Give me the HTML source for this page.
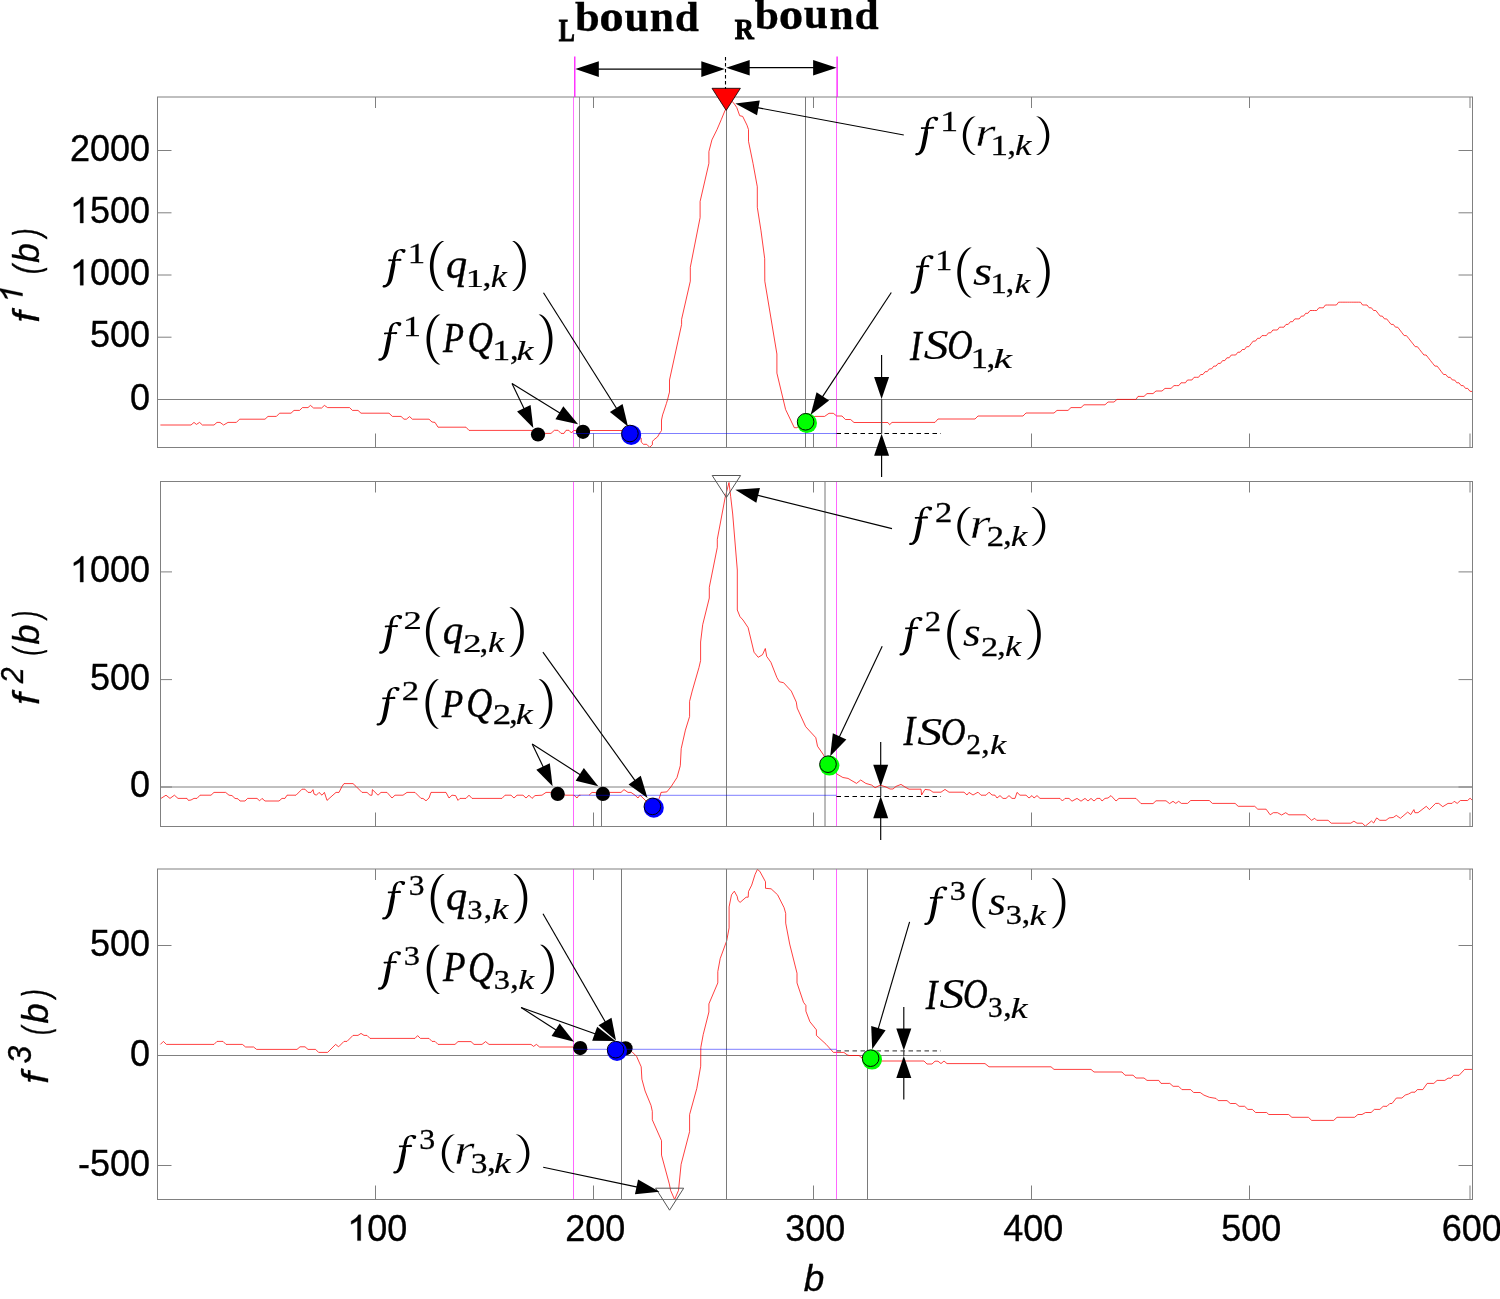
<!DOCTYPE html>
<html><head><meta charset="utf-8"><style>
html,body{margin:0;padding:0;background:#fff;}
body{width:1500px;height:1299px;overflow:hidden;font-family:"Liberation Sans",sans-serif;}
svg{display:block;will-change:transform;}
</style></head><body>
<svg width="1500" height="1299" viewBox="0 0 1500 1299">
<g style="opacity:0.999">
<rect x="0" y="0" width="1500" height="1299" fill="#fff"/>
<clipPath id="c0"><rect x="157.5" y="96.5" width="1315.0" height="351.5"/></clipPath>
<g id="p0" clip-path="url(#c0)"><line x1="157.50" y1="399.50" x2="1472.50" y2="399.50" stroke="#808080" stroke-width="1.00" /><polyline points="160.4,425.0 191.0,425.0 194.0,422.4 196.4,424.4 199.6,422.4 202.4,425.0 214.0,425.0 217.0,422.4 220.0,422.4 223.6,425.0 228.0,422.4 236.4,422.4 239.6,419.2 265.0,419.2 268.0,416.4 276.4,416.4 279.6,413.2 291.0,413.2 294.0,410.4 299.6,410.4 302.4,407.6 308.0,407.6 310.4,405.4 313.6,408.0 321.6,408.0 324.4,405.4 327.6,407.6 349.6,407.6 352.4,410.4 358.0,410.4 361.0,413.2 389.0,413.2 392.4,416.4 401.0,416.4 404.0,419.2 406.4,419.2 409.6,416.6 412.4,419.2 429.0,419.2 432.0,422.0 435.0,422.4 438.0,427.2 466.0,427.2 469.0,430.4 531.0,430.4 538.0,432.0 545.0,433.4 551.0,433.4 554.4,430.3 558.0,430.3 561.0,433.4 564.0,433.4 566.0,430.3 569.0,430.3 571.5,433.0 573.5,430.5 622.0,430.5 631.0,433.0 638.0,436.0 641.2,438.2 641.2,442.0 643.5,444.3 646.7,444.3 649.7,447.3 652.4,444.7 652.4,441.6 653.7,439.9 657.5,436.9 659.6,433.3 661.5,430.6 661.5,420.0 662.6,414.9 663.9,411.1 666.4,403.5 667.7,399.2 668.7,395.0 669.5,392.1 669.5,380.0 681.6,324.5 681.6,319.3 690.3,281.2 690.3,267.3 693.7,250.0 700.1,217.6 700.1,201.5 708.9,163.3 708.9,151.6 711.9,139.9 717.0,129.6 721.4,119.3 725.0,110.5 728.5,103.0 731.0,100.5 733.9,103.2 736.8,107.6 739.7,115.7 742.7,116.4 747.0,125.2 748.5,129.6 748.5,141.3 753.0,163.3 757.3,186.8 757.3,207.3 761.0,230.8 764.7,258.7 764.8,281.2 776.9,354.0 776.9,373.1 785.6,409.5 794.3,427.7 796.9,427.7 805.5,422.5 815.0,416.4 824.6,416.4 829.0,413.3 833.3,413.3 836.7,416.0 842.0,416.0 845.4,419.5 850.6,419.5 854.0,422.5 887.9,422.5 889.6,424.7 892.0,422.4 935.0,422.4 938.0,419.0 975.0,419.0 978.0,416.0 1023.0,416.0 1026.0,413.0 1054.0,413.0 1057.0,410.4 1068.0,410.4 1071.0,407.6 1081.0,407.6 1084.0,404.8 1105.0,404.8 1108.0,402.0 1114.0,402.0 1117.0,399.4 1136.0,399.4 1138.0,396.4 1144.0,396.4 1147.0,393.6 1153.0,393.6 1156.0,391.0 1162.0,391.0 1165.0,388.4 1171.0,388.4 1174.0,385.6 1176.6,385.6 1178.8,385.6 1181.0,382.8 1183.2,382.8 1185.4,382.8 1187.5,380.0 1189.7,380.0 1191.9,380.0 1194.1,377.3 1196.3,377.3 1198.5,377.3 1200.7,374.5 1202.9,374.5 1205.1,371.7 1207.2,371.7 1209.4,368.9 1211.6,368.9 1213.8,366.1 1216.0,366.1 1218.2,363.4 1220.4,363.4 1222.6,360.6 1224.8,360.6 1226.9,357.8 1229.1,357.8 1231.3,355.0 1233.5,355.0 1235.7,355.0 1237.9,352.2 1240.1,352.2 1242.3,349.5 1244.5,349.5 1246.6,346.7 1248.8,346.7 1251.0,343.9 1253.2,341.1 1255.4,341.1 1257.6,338.3 1259.8,338.3 1262.0,335.6 1264.2,335.6 1266.3,335.6 1268.5,332.8 1270.7,332.8 1272.9,330.0 1275.1,330.0 1277.3,330.0 1279.5,327.2 1281.7,327.2 1283.9,327.2 1286.0,324.4 1288.2,324.4 1290.4,321.7 1292.6,321.7 1294.8,318.9 1297.0,318.9 1299.2,318.9 1301.4,316.1 1303.6,316.1 1305.7,313.3 1307.9,313.3 1310.1,310.5 1312.3,310.5 1314.5,310.5 1316.7,310.5 1318.9,307.8 1321.1,307.8 1323.3,307.8 1325.4,305.0 1327.6,305.0 1329.8,305.0 1332.0,305.0 1334.2,305.0 1336.4,305.0 1338.6,302.2 1340.8,302.2 1342.9,302.2 1345.1,302.2 1347.3,302.2 1349.5,302.2 1351.7,302.2 1353.9,302.2 1356.1,302.2 1358.3,302.2 1360.5,302.2 1362.6,305.0 1364.8,305.0 1367.0,305.0 1369.2,307.8 1371.4,307.8 1373.6,310.5 1375.8,310.5 1378.0,313.3 1380.2,316.1 1382.3,316.1 1384.5,318.9 1386.7,318.9 1388.9,321.7 1391.1,324.4 1393.3,324.4 1395.5,327.2 1397.7,327.2 1399.9,330.0 1402.0,332.8 1404.2,335.6 1406.4,335.6 1408.6,338.3 1410.8,341.1 1413.0,343.9 1415.2,346.7 1417.4,346.7 1419.6,349.5 1421.7,352.2 1423.9,355.0 1426.1,355.0 1428.3,357.8 1430.5,360.6 1432.7,363.4 1434.9,366.1 1437.1,366.1 1439.3,368.9 1441.4,371.7 1443.6,374.5 1445.8,374.5 1448.0,377.3 1450.2,377.3 1452.4,380.0 1454.6,380.0 1456.8,382.8 1459.0,382.8 1461.1,385.6 1463.3,385.6 1465.5,388.4 1467.7,388.4 1469.9,391.2 1472.5,391.6" fill="none" stroke="#ff0000" stroke-width="0.75" stroke-linejoin="round" stroke-opacity="1.00"/></g>
<clipPath id="c1"><rect x="160.5" y="481.0" width="1312.0" height="346.0"/></clipPath>
<g id="p1" clip-path="url(#c1)"><line x1="160.50" y1="787.00" x2="1472.50" y2="787.00" stroke="#808080" stroke-width="1.00" /><polyline points="161.0,798.4 166.0,795.2 170.0,798.4 174.4,795.2 178.0,798.4 187.0,798.4 188.4,800.4 191.0,800.0 194.0,798.4 197.0,798.4 200.0,795.2 211.0,795.2 214.0,792.4 225.6,792.4 229.0,795.2 232.0,795.6 235.0,798.4 238.0,798.8 240.0,801.0 245.0,801.0 247.6,798.4 257.0,798.4 259.6,800.8 262.0,798.4 265.0,801.0 279.0,801.0 282.0,798.4 285.0,798.4 287.0,795.2 296.0,795.2 302.0,789.2 305.0,789.2 308.0,792.4 311.0,792.4 313.0,789.6 314.0,794.0 316.4,795.2 319.0,792.4 322.0,795.2 324.4,792.4 327.0,800.4 336.0,792.4 339.0,792.4 342.0,786.4 344.0,783.6 353.0,783.6 356.0,786.4 362.0,792.4 367.0,792.4 370.0,795.2 372.0,795.2 372.4,789.6 378.0,795.2 381.0,792.4 387.0,792.4 392.0,798.0 395.0,795.2 403.0,795.2 407.0,792.4 415.0,792.4 421.0,798.4 423.0,798.4 426.0,800.8 429.0,798.0 431.0,792.4 446.0,792.4 449.0,798.0 452.0,795.2 455.6,795.6 458.0,800.4 460.0,798.4 466.0,798.4 469.0,795.2 472.0,798.4 502.0,798.4 505.0,795.2 511.0,795.2 514.0,798.0 517.0,795.2 523.0,795.2 526.0,798.0 529.0,795.2 532.0,798.4 535.0,795.6 542.0,795.2 546.0,792.4 551.0,792.4 558.0,794.0 566.0,795.2 574.0,795.2 577.0,798.0 579.0,795.2 589.0,795.2 592.0,792.4 603.0,793.0 610.0,792.4 621.0,792.4 624.0,789.6 628.0,792.4 631.0,792.4 635.0,795.2 638.0,798.0 640.0,795.2 643.0,798.0 648.0,803.0 653.0,807.0 657.0,804.0 660.0,796.0 661.0,792.4 666.8,791.9 671.0,786.8 677.0,777.5 680.3,765.7 681.2,748.7 685.4,730.1 689.6,716.5 689.6,701.3 692.2,691.1 699.0,667.4 700.6,660.6 700.6,642.0 702.7,624.7 709.3,598.0 709.3,587.3 717.3,547.3 717.3,539.3 725.3,496.7 729.0,482.5 730.7,496.7 732.7,514.0 737.3,570.0 737.3,610.0 740.0,616.7 743.0,620.0 748.1,627.6 754.0,652.2 758.2,657.3 762.5,654.7 765.3,648.5 766.7,656.4 770.9,662.3 776.9,677.6 779.4,681.8 783.6,682.7 791.3,691.1 796.3,702.1 797.2,708.1 805.7,726.7 815.8,737.7 817.5,746.2 823.4,754.7 828.5,764.8 837.0,774.1 842.9,777.5 848.0,778.4 856.5,783.4 860.7,780.0 865.8,783.4 871.7,785.1 875.1,787.7 880.2,785.1 886.0,787.0 890.0,789.0 893.0,789.0 896.0,786.4 901.0,784.4 905.0,787.0 909.0,789.2 921.0,789.2 921.6,795.0 925.0,789.4 930.0,790.0 933.0,792.2 941.0,792.2 945.0,789.4 949.0,792.2 964.0,792.2 967.0,795.0 969.0,792.4 973.0,795.0 978.0,792.2 981.0,795.2 986.0,795.2 989.0,792.2 992.0,795.0 995.0,795.2 997.0,798.0 1000.0,795.6 1003.0,798.4 1006.0,798.4 1009.0,795.6 1012.0,798.4 1015.0,798.4 1017.0,792.4 1020.0,795.2 1026.0,795.2 1029.0,798.0 1032.0,795.6 1034.0,798.0 1037.0,795.6 1040.0,798.4 1060.0,798.4 1062.4,801.0 1065.0,798.4 1069.0,798.4 1072.0,801.2 1077.0,798.4 1081.0,801.2 1085.0,798.4 1088.0,801.0 1091.0,798.4 1094.0,801.0 1097.0,798.4 1100.0,798.4 1102.0,801.0 1105.0,798.4 1108.0,798.0 1111.0,795.6 1116.0,801.0 1119.0,798.4 1136.0,798.4 1141.0,803.6 1153.0,803.6 1156.0,800.8 1166.0,800.8 1169.6,803.6 1173.0,801.3 1175.8,803.4 1178.7,801.3 1181.4,803.4 1187.6,803.4 1190.7,800.5 1209.3,800.5 1212.4,803.4 1235.1,803.4 1238.2,806.3 1254.7,806.3 1257.8,809.2 1266.1,809.2 1270.2,814.8 1273.3,812.7 1277.5,812.7 1281.6,815.0 1285.7,812.7 1288.8,814.8 1305.4,814.8 1311.6,820.3 1314.7,818.3 1316.7,820.3 1328.1,820.3 1331.2,823.2 1350.8,823.2 1353.9,821.2 1357.0,823.2 1362.2,823.2 1365.3,826.1 1371.5,821.0 1373.6,823.0 1376.7,817.9 1379.8,820.3 1386.0,820.3 1389.1,817.9 1393.2,817.5 1396.3,815.4 1400.4,818.3 1407.7,812.1 1410.7,814.6 1413.9,809.6 1414.9,812.7 1418.0,812.7 1426.3,806.3 1429.4,809.6 1435.6,803.4 1438.7,803.4 1442.8,806.7 1448.0,803.4 1452.1,803.4 1454.2,801.3 1457.2,803.4 1460.4,800.5 1467.6,800.5 1470.1,798.2 1472.5,800.5" fill="none" stroke="#ff0000" stroke-width="0.75" stroke-linejoin="round" stroke-opacity="1.00"/></g>
<clipPath id="c2"><rect x="157.5" y="868.5" width="1315.0" height="331.5"/></clipPath>
<g id="p2" clip-path="url(#c2)"><line x1="157.50" y1="1055.50" x2="1472.50" y2="1055.50" stroke="#808080" stroke-width="1.00" /><polyline points="160.4,1044.4 163.4,1041.4 166.4,1044.4 214.0,1044.4 217.0,1041.4 223.0,1041.4 226.0,1044.4 242.4,1044.4 245.6,1047.0 253.6,1047.0 256.6,1049.4 297.0,1049.4 300.0,1046.8 305.0,1046.8 308.0,1049.4 315.6,1049.4 318.6,1052.4 327.6,1052.4 335.6,1044.4 338.6,1046.8 344.0,1041.4 347.0,1041.4 353.0,1035.4 358.0,1035.4 361.0,1033.4 364.0,1035.4 367.0,1035.4 370.0,1038.4 415.0,1038.4 417.6,1035.6 420.4,1038.4 429.0,1038.4 432.0,1041.4 435.0,1041.4 438.0,1044.4 455.0,1044.4 458.0,1041.6 471.0,1041.6 474.0,1044.4 482.0,1044.4 485.6,1041.6 489.0,1044.4 531.0,1044.4 533.6,1046.4 536.4,1044.4 539.6,1047.0 573.0,1047.0 575.5,1049.5 627.0,1049.5 632.0,1051.8 636.6,1056.4 641.2,1066.8 641.9,1079.2 645.1,1091.0 651.0,1105.4 652.3,1111.3 652.3,1119.8 661.5,1140.7 661.5,1155.1 669.3,1183.9 670.6,1190.4 674.6,1199.5 678.5,1190.4 681.1,1164.3 689.6,1131.6 689.6,1114.6 696.8,1088.4 700.7,1066.2 700.8,1047.6 703.2,1034.6 708.9,1012.0 708.9,1003.9 717.8,982.9 717.8,971.6 720.2,958.6 726.7,940.8 729.1,927.9 729.1,906.9 731.5,894.8 734.3,891.2 737.2,896.4 738.0,900.4 740.1,902.4 746.1,897.2 748.2,897.2 748.5,891.5 751.7,885.1 755.0,874.6 757.4,869.4 759.8,871.3 765.5,881.8 765.5,888.3 771.1,888.8 777.6,894.8 784.1,907.7 785.7,913.4 785.7,923.1 789.7,944.1 797.0,973.2 797.0,982.9 803.5,1002.3 805.9,1005.5 805.9,1011.2 809.9,1021.7 816.4,1029.8 816.4,1035.4 826.1,1044.3 833.4,1052.4 843.9,1052.4 847.1,1054.8 849.0,1055.5 859.0,1055.5 862.0,1058.0 871.4,1059.5 880.0,1061.0 924.0,1061.0 927.0,1064.0 932.0,1064.0 935.0,1061.2 938.0,1061.2 941.0,1063.6 944.0,1061.0 947.0,1063.6 985.0,1063.6 989.0,1066.8 1051.0,1066.8 1054.0,1069.4 1091.0,1069.4 1094.0,1072.0 1122.0,1072.0 1125.0,1075.2 1133.0,1075.2 1136.0,1078.0 1144.0,1078.0 1147.0,1080.4 1158.8,1080.4 1161.0,1083.4 1169.8,1083.4 1173.1,1086.3 1178.6,1086.3 1181.9,1089.6 1190.7,1089.6 1193.6,1092.5 1200.2,1092.5 1203.9,1095.1 1209.4,1097.3 1216.0,1098.4 1218.2,1100.6 1227.0,1100.6 1230.3,1103.5 1235.8,1103.5 1239.1,1106.3 1244.6,1106.3 1247.9,1109.4 1252.3,1109.4 1255.6,1112.5 1266.6,1112.5 1268.8,1114.5 1288.6,1114.5 1291.9,1117.3 1308.4,1117.3 1311.7,1120.4 1333.7,1120.4 1337.0,1117.3 1354.6,1117.3 1357.9,1114.5 1362.0,1114.5 1365.6,1112.5 1371.1,1112.5 1374.4,1109.4 1379.9,1109.4 1383.2,1106.3 1387.0,1106.3 1389.8,1103.5 1392.0,1103.5 1396.4,1098.0 1401.9,1098.0 1405.2,1095.1 1408.5,1094.0 1411.8,1092.2 1415.0,1092.2 1417.3,1089.6 1422.8,1089.6 1427.2,1083.4 1433.8,1083.4 1437.1,1080.4 1444.8,1080.4 1448.1,1078.2 1451.0,1078.2 1453.6,1075.3 1459.1,1075.3 1464.6,1069.4 1472.5,1069.4" fill="none" stroke="#ff0000" stroke-width="0.75" stroke-linejoin="round" stroke-opacity="1.00"/></g>
<line x1="573.50" y1="97.00" x2="573.50" y2="447.50" stroke="#ff00ff" stroke-width="1.00" stroke-opacity="0.55"/>
<line x1="579.50" y1="97.00" x2="579.50" y2="447.50" stroke="#999" stroke-width="1.00" stroke-opacity="1.00"/>
<line x1="726.50" y1="97.00" x2="726.50" y2="447.50" stroke="#7a7a7a" stroke-width="1.00" stroke-opacity="1.00"/>
<line x1="805.50" y1="97.00" x2="805.50" y2="447.50" stroke="#7a7a7a" stroke-width="1.00" stroke-opacity="1.00"/>
<line x1="836.50" y1="97.00" x2="836.50" y2="447.50" stroke="#ff00ff" stroke-width="1.00" stroke-opacity="0.60"/>
<line x1="573.50" y1="481.50" x2="573.50" y2="826.50" stroke="#ff00ff" stroke-width="1.00" stroke-opacity="0.60"/>
<line x1="601.50" y1="481.50" x2="601.50" y2="826.50" stroke="#7a7a7a" stroke-width="1.00" stroke-opacity="1.00"/>
<line x1="726.50" y1="481.50" x2="726.50" y2="826.50" stroke="#7a7a7a" stroke-width="1.00" stroke-opacity="1.00"/>
<line x1="825.00" y1="481.50" x2="825.00" y2="826.50" stroke="#777" stroke-width="1.00" stroke-opacity="1.00"/>
<line x1="836.50" y1="481.50" x2="836.50" y2="826.50" stroke="#ff00ff" stroke-width="1.00" stroke-opacity="0.60"/>
<line x1="573.50" y1="869.00" x2="573.50" y2="1199.50" stroke="#ff00ff" stroke-width="1.00" stroke-opacity="0.60"/>
<line x1="621.50" y1="869.00" x2="621.50" y2="1199.50" stroke="#7a7a7a" stroke-width="1.00" stroke-opacity="1.00"/>
<line x1="726.50" y1="869.00" x2="726.50" y2="1199.50" stroke="#7a7a7a" stroke-width="1.00" stroke-opacity="1.00"/>
<line x1="836.50" y1="869.00" x2="836.50" y2="1199.50" stroke="#ff00ff" stroke-width="1.00" stroke-opacity="0.60"/>
<line x1="867.50" y1="869.00" x2="867.50" y2="1199.50" stroke="#7a7a7a" stroke-width="1.00" stroke-opacity="1.00"/>
<line x1="836.50" y1="433.50" x2="941.00" y2="433.50" stroke="#000" stroke-width="1.20" stroke-dasharray="4.5,3.5"/>
<line x1="836.50" y1="796.50" x2="941.00" y2="796.50" stroke="#000" stroke-width="1.20" stroke-dasharray="4.5,3.5"/>
<line x1="836.50" y1="1050.80" x2="941.00" y2="1050.80" stroke="#555" stroke-width="1.20" stroke-dasharray="4.5,3.5"/>
<rect x="157.5" y="97.0" width="1315.0" height="350.5" fill="none" stroke="#808080" stroke-width="1"/>
<line x1="375.50" y1="447.50" x2="375.50" y2="433.50" stroke="#808080" stroke-width="1.00" />
<line x1="375.50" y1="97.00" x2="375.50" y2="108.00" stroke="#808080" stroke-width="1.00" />
<line x1="593.50" y1="447.50" x2="593.50" y2="433.50" stroke="#808080" stroke-width="1.00" />
<line x1="593.50" y1="97.00" x2="593.50" y2="108.00" stroke="#808080" stroke-width="1.00" />
<line x1="813.50" y1="447.50" x2="813.50" y2="433.50" stroke="#808080" stroke-width="1.00" />
<line x1="813.50" y1="97.00" x2="813.50" y2="108.00" stroke="#808080" stroke-width="1.00" />
<line x1="1031.50" y1="447.50" x2="1031.50" y2="433.50" stroke="#808080" stroke-width="1.00" />
<line x1="1031.50" y1="97.00" x2="1031.50" y2="108.00" stroke="#808080" stroke-width="1.00" />
<line x1="1249.50" y1="447.50" x2="1249.50" y2="433.50" stroke="#808080" stroke-width="1.00" />
<line x1="1249.50" y1="97.00" x2="1249.50" y2="108.00" stroke="#808080" stroke-width="1.00" />
<line x1="1470.00" y1="447.50" x2="1470.00" y2="433.50" stroke="#808080" stroke-width="1.00" />
<line x1="1470.00" y1="97.00" x2="1470.00" y2="108.00" stroke="#808080" stroke-width="1.00" />
<line x1="157.50" y1="150.50" x2="171.50" y2="150.50" stroke="#808080" stroke-width="1.00" />
<line x1="1472.50" y1="150.50" x2="1458.50" y2="150.50" stroke="#808080" stroke-width="1.00" />
<text x="69.914" y="160.700" font-family="'Liberation Sans'" font-size="36.00" fill="#000" stroke="#000" stroke-width="0.35">2</text><text x="89.936" y="160.700" font-family="'Liberation Sans'" font-size="36.00" fill="#000" stroke="#000" stroke-width="0.35">0</text><text x="109.957" y="160.700" font-family="'Liberation Sans'" font-size="36.00" fill="#000" stroke="#000" stroke-width="0.35">0</text><text x="129.979" y="160.700" font-family="'Liberation Sans'" font-size="36.00" fill="#000" stroke="#000" stroke-width="0.35">0</text>
<line x1="157.50" y1="212.80" x2="171.50" y2="212.80" stroke="#808080" stroke-width="1.00" />
<line x1="1472.50" y1="212.80" x2="1458.50" y2="212.80" stroke="#808080" stroke-width="1.00" />
<path transform="matrix(36.0000 0 0 36.0000 69.914 223.000)" d="M0.37256,-0.00000L0.28467,-0.00000L0.28467,-0.56006Q0.25293,-0.52979 0.20142,-0.49951Q0.14990,-0.46924 0.10889,-0.45410L0.10889,-0.53906Q0.18262,-0.57373 0.23706,-0.62207Q0.29150,-0.67041 0.31592,-0.71582L0.37256,-0.71582Z" fill="#000" stroke="#000" stroke-width="0.0097"/><text x="89.936" y="223.000" font-family="'Liberation Sans'" font-size="36.00" fill="#000" stroke="#000" stroke-width="0.35">5</text><text x="109.957" y="223.000" font-family="'Liberation Sans'" font-size="36.00" fill="#000" stroke="#000" stroke-width="0.35">0</text><text x="129.979" y="223.000" font-family="'Liberation Sans'" font-size="36.00" fill="#000" stroke="#000" stroke-width="0.35">0</text>
<line x1="157.50" y1="275.00" x2="171.50" y2="275.00" stroke="#808080" stroke-width="1.00" />
<line x1="1472.50" y1="275.00" x2="1458.50" y2="275.00" stroke="#808080" stroke-width="1.00" />
<path transform="matrix(36.0000 0 0 36.0000 69.914 285.200)" d="M0.37256,-0.00000L0.28467,-0.00000L0.28467,-0.56006Q0.25293,-0.52979 0.20142,-0.49951Q0.14990,-0.46924 0.10889,-0.45410L0.10889,-0.53906Q0.18262,-0.57373 0.23706,-0.62207Q0.29150,-0.67041 0.31592,-0.71582L0.37256,-0.71582Z" fill="#000" stroke="#000" stroke-width="0.0097"/><text x="89.936" y="285.200" font-family="'Liberation Sans'" font-size="36.00" fill="#000" stroke="#000" stroke-width="0.35">0</text><text x="109.957" y="285.200" font-family="'Liberation Sans'" font-size="36.00" fill="#000" stroke="#000" stroke-width="0.35">0</text><text x="129.979" y="285.200" font-family="'Liberation Sans'" font-size="36.00" fill="#000" stroke="#000" stroke-width="0.35">0</text>
<line x1="157.50" y1="337.20" x2="171.50" y2="337.20" stroke="#808080" stroke-width="1.00" />
<line x1="1472.50" y1="337.20" x2="1458.50" y2="337.20" stroke="#808080" stroke-width="1.00" />
<text x="89.936" y="347.400" font-family="'Liberation Sans'" font-size="36.00" fill="#000" stroke="#000" stroke-width="0.35">5</text><text x="109.957" y="347.400" font-family="'Liberation Sans'" font-size="36.00" fill="#000" stroke="#000" stroke-width="0.35">0</text><text x="129.979" y="347.400" font-family="'Liberation Sans'" font-size="36.00" fill="#000" stroke="#000" stroke-width="0.35">0</text>
<line x1="157.50" y1="399.50" x2="171.50" y2="399.50" stroke="#808080" stroke-width="1.00" />
<line x1="1472.50" y1="399.50" x2="1458.50" y2="399.50" stroke="#808080" stroke-width="1.00" />
<text x="129.979" y="409.700" font-family="'Liberation Sans'" font-size="36.00" fill="#000" stroke="#000" stroke-width="0.35">0</text>
<rect x="160.5" y="481.5" width="1312.0" height="345.0" fill="none" stroke="#808080" stroke-width="1"/>
<line x1="375.50" y1="826.50" x2="375.50" y2="812.50" stroke="#808080" stroke-width="1.00" />
<line x1="375.50" y1="481.50" x2="375.50" y2="492.50" stroke="#808080" stroke-width="1.00" />
<line x1="593.50" y1="826.50" x2="593.50" y2="812.50" stroke="#808080" stroke-width="1.00" />
<line x1="593.50" y1="481.50" x2="593.50" y2="492.50" stroke="#808080" stroke-width="1.00" />
<line x1="813.50" y1="826.50" x2="813.50" y2="812.50" stroke="#808080" stroke-width="1.00" />
<line x1="813.50" y1="481.50" x2="813.50" y2="492.50" stroke="#808080" stroke-width="1.00" />
<line x1="1031.50" y1="826.50" x2="1031.50" y2="812.50" stroke="#808080" stroke-width="1.00" />
<line x1="1031.50" y1="481.50" x2="1031.50" y2="492.50" stroke="#808080" stroke-width="1.00" />
<line x1="1249.50" y1="826.50" x2="1249.50" y2="812.50" stroke="#808080" stroke-width="1.00" />
<line x1="1249.50" y1="481.50" x2="1249.50" y2="492.50" stroke="#808080" stroke-width="1.00" />
<line x1="1470.00" y1="826.50" x2="1470.00" y2="812.50" stroke="#808080" stroke-width="1.00" />
<line x1="1470.00" y1="481.50" x2="1470.00" y2="492.50" stroke="#808080" stroke-width="1.00" />
<line x1="160.50" y1="571.90" x2="172.00" y2="571.90" stroke="#808080" stroke-width="1.00" />
<line x1="1472.50" y1="571.90" x2="1458.50" y2="571.90" stroke="#808080" stroke-width="1.00" />
<path transform="matrix(36.0000 0 0 36.0000 69.914 582.100)" d="M0.37256,-0.00000L0.28467,-0.00000L0.28467,-0.56006Q0.25293,-0.52979 0.20142,-0.49951Q0.14990,-0.46924 0.10889,-0.45410L0.10889,-0.53906Q0.18262,-0.57373 0.23706,-0.62207Q0.29150,-0.67041 0.31592,-0.71582L0.37256,-0.71582Z" fill="#000" stroke="#000" stroke-width="0.0097"/><text x="89.936" y="582.100" font-family="'Liberation Sans'" font-size="36.00" fill="#000" stroke="#000" stroke-width="0.35">0</text><text x="109.957" y="582.100" font-family="'Liberation Sans'" font-size="36.00" fill="#000" stroke="#000" stroke-width="0.35">0</text><text x="129.979" y="582.100" font-family="'Liberation Sans'" font-size="36.00" fill="#000" stroke="#000" stroke-width="0.35">0</text>
<line x1="160.50" y1="679.60" x2="172.00" y2="679.60" stroke="#808080" stroke-width="1.00" />
<line x1="1472.50" y1="679.60" x2="1458.50" y2="679.60" stroke="#808080" stroke-width="1.00" />
<text x="89.936" y="689.800" font-family="'Liberation Sans'" font-size="36.00" fill="#000" stroke="#000" stroke-width="0.35">5</text><text x="109.957" y="689.800" font-family="'Liberation Sans'" font-size="36.00" fill="#000" stroke="#000" stroke-width="0.35">0</text><text x="129.979" y="689.800" font-family="'Liberation Sans'" font-size="36.00" fill="#000" stroke="#000" stroke-width="0.35">0</text>
<line x1="160.50" y1="787.00" x2="172.00" y2="787.00" stroke="#808080" stroke-width="1.00" />
<line x1="1472.50" y1="787.00" x2="1458.50" y2="787.00" stroke="#808080" stroke-width="1.00" />
<text x="129.979" y="797.200" font-family="'Liberation Sans'" font-size="36.00" fill="#000" stroke="#000" stroke-width="0.35">0</text>
<rect x="157.5" y="869.0" width="1315.0" height="330.5" fill="none" stroke="#808080" stroke-width="1"/>
<line x1="375.50" y1="1199.50" x2="375.50" y2="1185.50" stroke="#808080" stroke-width="1.00" />
<line x1="375.50" y1="869.00" x2="375.50" y2="880.00" stroke="#808080" stroke-width="1.00" />
<line x1="593.50" y1="1199.50" x2="593.50" y2="1185.50" stroke="#808080" stroke-width="1.00" />
<line x1="593.50" y1="869.00" x2="593.50" y2="880.00" stroke="#808080" stroke-width="1.00" />
<line x1="813.50" y1="1199.50" x2="813.50" y2="1185.50" stroke="#808080" stroke-width="1.00" />
<line x1="813.50" y1="869.00" x2="813.50" y2="880.00" stroke="#808080" stroke-width="1.00" />
<line x1="1031.50" y1="1199.50" x2="1031.50" y2="1185.50" stroke="#808080" stroke-width="1.00" />
<line x1="1031.50" y1="869.00" x2="1031.50" y2="880.00" stroke="#808080" stroke-width="1.00" />
<line x1="1249.50" y1="1199.50" x2="1249.50" y2="1185.50" stroke="#808080" stroke-width="1.00" />
<line x1="1249.50" y1="869.00" x2="1249.50" y2="880.00" stroke="#808080" stroke-width="1.00" />
<line x1="1470.00" y1="1199.50" x2="1470.00" y2="1185.50" stroke="#808080" stroke-width="1.00" />
<line x1="1470.00" y1="869.00" x2="1470.00" y2="880.00" stroke="#808080" stroke-width="1.00" />
<line x1="157.50" y1="945.50" x2="171.50" y2="945.50" stroke="#808080" stroke-width="1.00" />
<line x1="1472.50" y1="945.50" x2="1458.50" y2="945.50" stroke="#808080" stroke-width="1.00" />
<text x="89.936" y="955.700" font-family="'Liberation Sans'" font-size="36.00" fill="#000" stroke="#000" stroke-width="0.35">5</text><text x="109.957" y="955.700" font-family="'Liberation Sans'" font-size="36.00" fill="#000" stroke="#000" stroke-width="0.35">0</text><text x="129.979" y="955.700" font-family="'Liberation Sans'" font-size="36.00" fill="#000" stroke="#000" stroke-width="0.35">0</text>
<line x1="157.50" y1="1055.50" x2="171.50" y2="1055.50" stroke="#808080" stroke-width="1.00" />
<line x1="1472.50" y1="1055.50" x2="1458.50" y2="1055.50" stroke="#808080" stroke-width="1.00" />
<text x="129.979" y="1065.700" font-family="'Liberation Sans'" font-size="36.00" fill="#000" stroke="#000" stroke-width="0.35">0</text>
<line x1="157.50" y1="1165.50" x2="171.50" y2="1165.50" stroke="#808080" stroke-width="1.00" />
<line x1="1472.50" y1="1165.50" x2="1458.50" y2="1165.50" stroke="#808080" stroke-width="1.00" />
<text x="77.947" y="1175.700" font-family="'Liberation Sans'" font-size="36.00" fill="#000" stroke="#000" stroke-width="0.35">-</text><text x="89.936" y="1175.700" font-family="'Liberation Sans'" font-size="36.00" fill="#000" stroke="#000" stroke-width="0.35">5</text><text x="109.957" y="1175.700" font-family="'Liberation Sans'" font-size="36.00" fill="#000" stroke="#000" stroke-width="0.35">0</text><text x="129.979" y="1175.700" font-family="'Liberation Sans'" font-size="36.00" fill="#000" stroke="#000" stroke-width="0.35">0</text>
<path transform="matrix(36.0000 0 0 36.0000 347.268 1240.600)" d="M0.37256,-0.00000L0.28467,-0.00000L0.28467,-0.56006Q0.25293,-0.52979 0.20142,-0.49951Q0.14990,-0.46924 0.10889,-0.45410L0.10889,-0.53906Q0.18262,-0.57373 0.23706,-0.62207Q0.29150,-0.67041 0.31592,-0.71582L0.37256,-0.71582Z" fill="#000" stroke="#000" stroke-width="0.0097"/><text x="367.289" y="1240.600" font-family="'Liberation Sans'" font-size="36.00" fill="#000" stroke="#000" stroke-width="0.35">0</text><text x="387.311" y="1240.600" font-family="'Liberation Sans'" font-size="36.00" fill="#000" stroke="#000" stroke-width="0.35">0</text>
<text x="565.268" y="1240.600" font-family="'Liberation Sans'" font-size="36.00" fill="#000" stroke="#000" stroke-width="0.35">2</text><text x="585.289" y="1240.600" font-family="'Liberation Sans'" font-size="36.00" fill="#000" stroke="#000" stroke-width="0.35">0</text><text x="605.311" y="1240.600" font-family="'Liberation Sans'" font-size="36.00" fill="#000" stroke="#000" stroke-width="0.35">0</text>
<text x="785.268" y="1240.600" font-family="'Liberation Sans'" font-size="36.00" fill="#000" stroke="#000" stroke-width="0.35">3</text><text x="805.289" y="1240.600" font-family="'Liberation Sans'" font-size="36.00" fill="#000" stroke="#000" stroke-width="0.35">0</text><text x="825.311" y="1240.600" font-family="'Liberation Sans'" font-size="36.00" fill="#000" stroke="#000" stroke-width="0.35">0</text>
<text x="1003.268" y="1240.600" font-family="'Liberation Sans'" font-size="36.00" fill="#000" stroke="#000" stroke-width="0.35">4</text><text x="1023.289" y="1240.600" font-family="'Liberation Sans'" font-size="36.00" fill="#000" stroke="#000" stroke-width="0.35">0</text><text x="1043.311" y="1240.600" font-family="'Liberation Sans'" font-size="36.00" fill="#000" stroke="#000" stroke-width="0.35">0</text>
<text x="1221.268" y="1240.600" font-family="'Liberation Sans'" font-size="36.00" fill="#000" stroke="#000" stroke-width="0.35">5</text><text x="1241.289" y="1240.600" font-family="'Liberation Sans'" font-size="36.00" fill="#000" stroke="#000" stroke-width="0.35">0</text><text x="1261.311" y="1240.600" font-family="'Liberation Sans'" font-size="36.00" fill="#000" stroke="#000" stroke-width="0.35">0</text>
<text x="1441.768" y="1240.600" font-family="'Liberation Sans'" font-size="36.00" fill="#000" stroke="#000" stroke-width="0.35">6</text><text x="1461.789" y="1240.600" font-family="'Liberation Sans'" font-size="36.00" fill="#000" stroke="#000" stroke-width="0.35">0</text><text x="1481.811" y="1240.600" font-family="'Liberation Sans'" font-size="36.00" fill="#000" stroke="#000" stroke-width="0.35">0</text>
<circle cx="538.0" cy="434.5" r="7.1" fill="#000"/>
<circle cx="583.0" cy="431.8" r="7.1" fill="#000"/>
<circle cx="557.7" cy="793.9" r="7.1" fill="#000"/>
<circle cx="602.9" cy="793.9" r="7.1" fill="#000"/>
<circle cx="580.2" cy="1048.1" r="7.1" fill="#000"/>
<circle cx="625.5" cy="1048.3" r="7.1" fill="#000"/>
<line x1="588.00" y1="1049.50" x2="607.50" y2="1049.50" stroke="#fff" stroke-width="1.30" />
<line x1="580.50" y1="795.30" x2="589.00" y2="795.30" stroke="#fff" stroke-width="1.30" />
<line x1="573.50" y1="433.50" x2="836.50" y2="433.50" stroke="#0000ff" stroke-width="1.00" stroke-opacity="0.5"/>
<line x1="573.50" y1="795.30" x2="836.50" y2="795.30" stroke="#0000ff" stroke-width="1.00" stroke-opacity="0.5"/>
<line x1="573.50" y1="1049.30" x2="836.50" y2="1049.30" stroke="#0000ff" stroke-width="1.00" stroke-opacity="0.5"/>
<circle cx="631.2" cy="434.9" r="10" fill="#0000ff"/><circle cx="629.9" cy="433.5" r="8.3" fill="none" stroke="#000" stroke-width="0.95"/>
<circle cx="653.8" cy="807.8" r="10" fill="#0000ff"/><circle cx="652.4" cy="806.4" r="8.3" fill="none" stroke="#000" stroke-width="0.95"/>
<circle cx="617.0" cy="1051.0" r="10" fill="#0000ff"/><circle cx="615.6" cy="1049.7" r="8.3" fill="none" stroke="#000" stroke-width="0.95"/>
<circle cx="807.0" cy="423.1" r="10" fill="#00ff00"/><circle cx="805.6" cy="421.8" r="8.3" fill="none" stroke="#000" stroke-width="0.95"/>
<circle cx="829.4" cy="765.6" r="10" fill="#00ff00"/><circle cx="828.0" cy="764.2" r="8.3" fill="none" stroke="#000" stroke-width="0.95"/>
<circle cx="872.0" cy="1059.6" r="10" fill="#00ff00"/><circle cx="870.6" cy="1058.2" r="8.3" fill="none" stroke="#000" stroke-width="0.95"/>
<polygon points="712.00,88.30 740.40,88.30 726.20,110.40" fill="#ff0000" stroke="#000" stroke-width="0.80"/>
<polygon points="712.20,475.50 740.60,475.50 726.40,497.50" fill="none" stroke="#555" stroke-width="1.00"/>
<polygon points="655.60,1188.20 683.70,1188.20 669.60,1210.20" fill="none" stroke="#555" stroke-width="1.00"/>
<line x1="903.80" y1="135.00" x2="757.42" y2="107.63" stroke="#000" stroke-width="1.15" /><polygon points="735.30,103.50 759.78,100.45 757.02,115.19" fill="#000" stroke="none" stroke-width="1.00"/>
<line x1="543.50" y1="292.70" x2="616.79" y2="408.74" stroke="#000" stroke-width="1.15" /><polygon points="628.00,426.50 609.91,411.90 622.59,403.89" fill="#000" stroke="none" stroke-width="1.00"/>
<line x1="512.00" y1="383.50" x2="524.23" y2="409.06" stroke="#000" stroke-width="1.15" /><polygon points="533.30,428.00 517.04,411.39 530.57,404.92" fill="#000" stroke="none" stroke-width="1.00"/>
<line x1="512.00" y1="383.50" x2="560.23" y2="413.27" stroke="#000" stroke-width="1.15" /><polygon points="578.10,424.30 555.44,419.13 563.32,406.36" fill="#000" stroke="none" stroke-width="1.00"/>
<line x1="891.30" y1="292.50" x2="822.26" y2="397.17" stroke="#000" stroke-width="1.15" /><polygon points="810.70,414.70 816.55,392.21 829.07,400.46" fill="#000" stroke="none" stroke-width="1.00"/>
<line x1="881.60" y1="355.10" x2="881.60" y2="377.90" stroke="#000" stroke-width="1.15" /><polygon points="881.60,398.90 874.10,376.90 889.10,376.90" fill="#000" stroke="none" stroke-width="1.00"/>
<line x1="881.60" y1="476.90" x2="881.60" y2="454.80" stroke="#000" stroke-width="1.15" /><polygon points="881.60,433.80 889.10,455.80 874.10,455.80" fill="#000" stroke="none" stroke-width="1.00"/>
<line x1="881.60" y1="398.90" x2="881.60" y2="433.80" stroke="#444" stroke-width="1.30" />
<line x1="892.00" y1="528.60" x2="757.14" y2="495.12" stroke="#000" stroke-width="1.15" /><polygon points="735.30,489.70 759.91,488.08 756.30,502.64" fill="#000" stroke="none" stroke-width="1.00"/>
<line x1="542.90" y1="652.20" x2="635.26" y2="780.94" stroke="#000" stroke-width="1.15" /><polygon points="647.50,798.00 628.58,784.50 640.77,775.75" fill="#000" stroke="none" stroke-width="1.00"/>
<line x1="532.20" y1="744.00" x2="543.48" y2="767.38" stroke="#000" stroke-width="1.15" /><polygon points="552.60,786.30 536.29,769.74 549.80,763.23" fill="#000" stroke="none" stroke-width="1.00"/>
<line x1="532.20" y1="744.00" x2="580.61" y2="774.98" stroke="#000" stroke-width="1.15" /><polygon points="598.30,786.30 575.73,780.76 583.81,768.12" fill="#000" stroke="none" stroke-width="1.00"/>
<line x1="882.20" y1="646.30" x2="839.17" y2="737.31" stroke="#000" stroke-width="1.15" /><polygon points="830.20,756.30 832.82,733.21 846.38,739.62" fill="#000" stroke="none" stroke-width="1.00"/>
<line x1="880.70" y1="742.00" x2="880.70" y2="765.80" stroke="#000" stroke-width="1.15" /><polygon points="880.70,786.80 873.20,764.80 888.20,764.80" fill="#000" stroke="none" stroke-width="1.00"/>
<line x1="880.70" y1="840.00" x2="880.70" y2="817.20" stroke="#000" stroke-width="1.15" /><polygon points="880.70,796.20 888.20,818.20 873.20,818.20" fill="#000" stroke="none" stroke-width="1.00"/>
<line x1="880.70" y1="786.80" x2="880.70" y2="796.20" stroke="#444" stroke-width="1.30" />
<line x1="543.20" y1="1167.20" x2="637.49" y2="1187.14" stroke="#000" stroke-width="1.15" /><polygon points="659.50,1191.80 634.96,1194.27 638.06,1179.60" fill="#000" stroke="none" stroke-width="1.00"/>
<line x1="543.00" y1="913.80" x2="605.52" y2="1022.30" stroke="#000" stroke-width="1.15" /><polygon points="616.00,1040.50 598.52,1025.18 611.52,1017.69" fill="#000" stroke="none" stroke-width="1.00"/>
<line x1="521.10" y1="1007.50" x2="556.45" y2="1030.31" stroke="#000" stroke-width="1.15" /><polygon points="574.10,1041.70 551.55,1036.07 559.68,1023.47" fill="#000" stroke="none" stroke-width="1.00"/>
<line x1="521.10" y1="1007.50" x2="595.62" y2="1034.05" stroke="#000" stroke-width="1.15" /><polygon points="615.40,1041.10 592.16,1040.78 597.19,1026.65" fill="#000" stroke="none" stroke-width="1.00"/>
<line x1="909.60" y1="921.90" x2="878.12" y2="1029.05" stroke="#000" stroke-width="1.15" /><polygon points="872.20,1049.20 871.21,1025.98 885.60,1030.21" fill="#000" stroke="none" stroke-width="1.00"/>
<line x1="903.80" y1="1007.00" x2="903.80" y2="1029.40" stroke="#000" stroke-width="1.15" /><polygon points="903.80,1050.40 896.30,1028.40 911.30,1028.40" fill="#000" stroke="none" stroke-width="1.00"/>
<line x1="903.80" y1="1099.60" x2="903.80" y2="1077.00" stroke="#000" stroke-width="1.15" /><polygon points="903.80,1056.00 911.30,1078.00 896.30,1078.00" fill="#000" stroke="none" stroke-width="1.00"/>
<line x1="903.80" y1="1050.40" x2="903.80" y2="1056.00" stroke="#444" stroke-width="1.30" />
<line x1="574.80" y1="56.40" x2="574.80" y2="97.00" stroke="#ff00ff" stroke-width="1.20" />
<line x1="837.10" y1="56.40" x2="837.10" y2="97.00" stroke="#ff00ff" stroke-width="1.20" />
<line x1="725.50" y1="56.90" x2="725.50" y2="89.00" stroke="#000" stroke-width="1.10" stroke-dasharray="3.5,2.5"/>
<line x1="597.80" y1="69.10" x2="702.30" y2="69.10" stroke="#000" stroke-width="1.30" /><polygon points="575.30,69.10 598.80,61.30 598.80,76.90" fill="#000" stroke="none" stroke-width="1.00"/><polygon points="724.80,69.10 701.30,61.30 701.30,76.90" fill="#000" stroke="none" stroke-width="1.00"/>
<line x1="748.70" y1="67.70" x2="814.10" y2="67.70" stroke="#000" stroke-width="1.30" /><polygon points="726.20,67.70 749.70,59.90 749.70,75.50" fill="#000" stroke="none" stroke-width="1.00"/><polygon points="836.60,67.70 813.10,59.90 813.10,75.50" fill="#000" stroke="none" stroke-width="1.00"/>
<text transform="matrix(0.2402 0.0000 0.0000 0.3100 558.6896 41.1000)" font-family='"Liberation Serif"' font-style="normal" font-weight="bold" font-size="100" fill="#000" stroke="#000" stroke-width="3.2716">L</text>
<text transform="matrix(0.4454 0.0000 0.0000 0.4207 575.0346 31.0892)" font-family='"Liberation Serif"' font-style="normal" font-weight="bold" font-size="100" fill="#000" stroke="#000" stroke-width="0.6928">b</text>
<text transform="matrix(0.4908 0.0000 0.0000 0.4449 599.3309 31.0655)" font-family='"Liberation Serif"' font-style="normal" font-weight="bold" font-size="100" fill="#000" stroke="#000" stroke-width="0.6412">o</text>
<text transform="matrix(0.4357 0.0000 0.0000 0.4457 624.5406 30.9560)" font-family='"Liberation Serif"' font-style="normal" font-weight="bold" font-size="100" fill="#000" stroke="#000" stroke-width="0.6808">u</text>
<text transform="matrix(0.4357 0.0000 0.0000 0.4436 649.6300 31.0000)" font-family='"Liberation Serif"' font-style="normal" font-weight="bold" font-size="100" fill="#000" stroke="#000" stroke-width="0.6824">n</text>
<text transform="matrix(0.4342 0.0000 0.0000 0.4207 674.6404 31.0892)" font-family='"Liberation Serif"' font-style="normal" font-weight="bold" font-size="100" fill="#000" stroke="#000" stroke-width="0.7019">d</text>
<text transform="matrix(0.2648 0.0000 0.0000 0.3039 734.6475 38.9000)" font-family='"Liberation Serif"' font-style="normal" font-weight="bold" font-size="100" fill="#000" stroke="#000" stroke-width="3.1653">R</text>
<text transform="matrix(0.4354 0.0000 0.0000 0.4207 754.8472 28.5892)" font-family='"Liberation Serif"' font-style="normal" font-weight="bold" font-size="100" fill="#000" stroke="#000" stroke-width="0.7008">b</text>
<text transform="matrix(0.4908 0.0000 0.0000 0.4366 778.6309 28.5736)" font-family='"Liberation Serif"' font-style="normal" font-weight="bold" font-size="100" fill="#000" stroke="#000" stroke-width="0.6470">o</text>
<text transform="matrix(0.4357 0.0000 0.0000 0.4351 803.8406 28.4689)" font-family='"Liberation Serif"' font-style="normal" font-weight="bold" font-size="100" fill="#000" stroke="#000" stroke-width="0.6891">u</text>
<text transform="matrix(0.4357 0.0000 0.0000 0.4414 829.4300 28.8000)" font-family='"Liberation Serif"' font-style="normal" font-weight="bold" font-size="100" fill="#000" stroke="#000" stroke-width="0.6841">n</text>
<text transform="matrix(0.4342 0.0000 0.0000 0.4207 854.4404 28.5892)" font-family='"Liberation Serif"' font-style="normal" font-weight="bold" font-size="100" fill="#000" stroke="#000" stroke-width="0.7019">d</text>
<path d="M937.26,117.26C937.79,117.46 938.09,117.61 938.20,118.03C938.31,118.44 938.16,119.29 937.94,119.75C937.72,120.22 937.25,120.67 936.89,120.82C936.52,120.98 936.11,120.86 935.76,120.71C935.42,120.56 935.07,120.24 934.82,119.94C934.57,119.64 934.51,119.18 934.26,118.91C934.01,118.64 933.69,118.42 933.32,118.33C932.96,118.25 932.49,118.27 932.08,118.41C931.68,118.55 931.24,118.79 930.88,119.18C930.53,119.56 930.21,120.10 929.95,120.71C929.68,121.32 929.46,122.02 929.27,122.82C929.08,123.62 928.94,124.80 928.82,125.50C928.70,126.20 927.78,126.83 928.56,127.03C929.34,127.24 932.67,126.44 933.51,126.73C934.35,127.02 934.45,128.39 933.58,128.76C932.72,129.13 929.26,128.34 928.33,128.95C927.41,129.56 928.23,130.93 928.03,132.40C927.84,133.87 927.48,136.04 927.17,137.77C926.86,139.49 926.47,141.28 926.16,142.75C925.84,144.22 925.63,145.40 925.29,146.58C924.96,147.77 924.56,148.92 924.13,149.84C923.70,150.77 923.27,151.45 922.70,152.14C922.14,152.83 921.45,153.49 920.75,153.98C920.05,154.47 919.19,154.86 918.50,155.09C917.81,155.33 917.11,155.40 916.63,155.40C916.14,155.40 915.81,155.30 915.58,155.09C915.34,154.89 915.18,154.47 915.20,154.17C915.22,153.87 915.45,153.50 915.69,153.29C915.93,153.09 916.28,153.00 916.63,152.95C916.97,152.89 917.40,153.06 917.75,152.95C918.10,152.83 918.36,152.69 918.73,152.26C919.10,151.82 919.61,151.09 919.97,150.34C920.32,149.59 920.56,148.81 920.87,147.73C921.17,146.66 921.49,145.37 921.80,143.90C922.12,142.43 922.40,140.71 922.74,138.92C923.09,137.13 923.56,134.82 923.87,133.17C924.17,131.52 925.01,129.72 924.58,129.03C924.15,128.34 921.86,129.31 921.32,129.03C920.77,128.75 920.66,127.66 921.32,127.34C921.97,127.02 924.51,127.55 925.26,127.11C926.01,126.68 925.60,125.58 925.82,124.73C926.04,123.89 926.22,122.88 926.57,122.05C926.91,121.22 927.35,120.42 927.88,119.75C928.41,119.08 929.01,118.47 929.76,118.03C930.51,117.58 931.51,117.27 932.38,117.07C933.26,116.86 934.20,116.77 935.01,116.80C935.82,116.83 936.73,117.06 937.26,117.26Z" fill="#000"/>
<text transform="matrix(0.3579 0.0000 0.0000 0.2908 940.2544 131.2000)" font-family='"Liberation Serif"' font-style="normal" font-weight="normal" font-size="100" fill="#000" stroke="#000" stroke-width="0.9249">1</text>
<path d="M973.50,116.40 L971.57,117.36 L970.19,118.33 L969.08,119.29 L968.15,120.26 L967.36,121.22 L966.66,122.19 L966.05,123.15 L965.52,124.12 L965.05,125.08 L964.63,126.05 L964.26,127.01 L963.94,127.98 L963.67,128.94 L963.43,129.91 L963.24,130.88 L963.08,131.84 L962.96,132.80 L962.87,133.77 L962.82,134.73 L962.80,135.70 L962.82,136.66 L962.87,137.63 L962.96,138.59 L963.08,139.56 L963.24,140.52 L963.43,141.49 L963.67,142.45 L963.94,143.42 L964.26,144.38 L964.63,145.35 L965.05,146.31 L965.52,147.28 L966.05,148.24 L966.66,149.21 L967.36,150.17 L968.15,151.14 L969.08,152.10 L970.19,153.07 L971.57,154.03 L973.50,155.00 L975.80,155.00 L974.02,154.03 L972.76,153.07 L971.77,152.10 L970.94,151.14 L970.23,150.17 L969.62,149.21 L969.08,148.24 L968.60,147.28 L968.18,146.31 L967.80,145.35 L967.47,144.38 L967.18,143.42 L966.92,142.45 L966.70,141.49 L966.52,140.52 L966.37,139.56 L966.25,138.59 L966.17,137.63 L966.12,136.66 L966.10,135.70 L966.12,134.73 L966.17,133.77 L966.25,132.80 L966.37,131.84 L966.52,130.88 L966.70,129.91 L966.92,128.94 L967.18,127.98 L967.47,127.01 L967.80,126.05 L968.18,125.08 L968.60,124.12 L969.08,123.15 L969.62,122.19 L970.23,121.22 L970.94,120.26 L971.77,119.29 L972.76,118.33 L974.02,117.36 L975.80,116.40Z" fill="#000"/>
<text transform="matrix(0.5319 0.0000 0.0000 0.4223 974.9443 145.8000)" font-family='"Liberation Serif"' font-style="italic" font-weight="normal" font-size="100" fill="#000" stroke="#fff" stroke-width="1.0479">r</text>
<text transform="matrix(0.3494 0.0000 0.0000 0.2969 990.5293 155.0000)" font-family='"Liberation Serif"' font-style="normal" font-weight="normal" font-size="100" fill="#000" stroke="#000" stroke-width="0.9284">1</text>
<text transform="matrix(0.3357 0.0000 0.0000 0.3076 1007.5213 154.0690)" font-family='"Liberation Serif"' font-style="normal" font-weight="normal" font-size="100" fill="#000" stroke="#000" stroke-width="0.9327">,</text>
<text transform="matrix(0.3700 0.0000 0.0000 0.3012 1014.9340 155.0000)" font-family='"Liberation Serif"' font-style="italic" font-weight="normal" font-size="100" fill="#000" stroke="#000" stroke-width="0.5959">k</text>
<path d="M1038.30,116.40 L1040.28,117.36 L1041.70,118.33 L1042.84,119.29 L1043.80,120.26 L1044.62,121.22 L1045.33,122.19 L1045.95,123.15 L1046.51,124.12 L1046.99,125.08 L1047.42,126.05 L1047.80,127.01 L1048.13,127.98 L1048.41,128.94 L1048.65,129.91 L1048.85,130.88 L1049.02,131.84 L1049.14,132.80 L1049.23,133.77 L1049.28,134.73 L1049.30,135.70 L1049.28,136.66 L1049.23,137.63 L1049.14,138.59 L1049.02,139.56 L1048.85,140.52 L1048.65,141.49 L1048.41,142.45 L1048.13,143.42 L1047.80,144.38 L1047.42,145.35 L1046.99,146.31 L1046.51,147.28 L1045.95,148.24 L1045.33,149.21 L1044.62,150.17 L1043.80,151.14 L1042.84,152.10 L1041.70,153.07 L1040.28,154.03 L1038.30,155.00 L1036.00,155.00 L1037.84,154.03 L1039.13,153.07 L1040.16,152.10 L1041.01,151.14 L1041.74,150.17 L1042.37,149.21 L1042.93,148.24 L1043.42,147.28 L1043.86,146.31 L1044.25,145.35 L1044.59,144.38 L1044.89,143.42 L1045.15,142.45 L1045.38,141.49 L1045.57,140.52 L1045.72,139.56 L1045.84,138.59 L1045.93,137.63 L1045.98,136.66 L1046.00,135.70 L1045.98,134.73 L1045.93,133.77 L1045.84,132.80 L1045.72,131.84 L1045.57,130.88 L1045.38,129.91 L1045.15,128.94 L1044.89,127.98 L1044.59,127.01 L1044.25,126.05 L1043.86,125.08 L1043.42,124.12 L1042.93,123.15 L1042.37,122.19 L1041.74,121.22 L1041.01,120.26 L1040.16,119.29 L1039.13,118.33 L1037.84,117.36 L1036.00,116.40Z" fill="#000"/>
<path d="M932.46,255.66C932.99,255.86 933.29,256.01 933.40,256.43C933.51,256.84 933.36,257.69 933.14,258.15C932.92,258.62 932.45,259.07 932.09,259.22C931.72,259.38 931.31,259.26 930.96,259.11C930.62,258.96 930.27,258.64 930.02,258.34C929.77,258.04 929.71,257.58 929.46,257.31C929.21,257.04 928.89,256.82 928.52,256.73C928.16,256.65 927.69,256.67 927.28,256.81C926.88,256.95 926.44,257.19 926.08,257.58C925.73,257.96 925.41,258.50 925.15,259.11C924.88,259.72 924.66,260.42 924.47,261.22C924.28,262.02 924.14,263.20 924.02,263.90C923.90,264.60 922.98,265.23 923.76,265.43C924.54,265.64 927.87,264.84 928.71,265.13C929.55,265.42 929.65,266.79 928.78,267.16C927.92,267.53 924.46,266.74 923.53,267.35C922.61,267.96 923.43,269.33 923.23,270.80C923.04,272.27 922.68,274.44 922.37,276.17C922.06,277.89 921.67,279.68 921.36,281.15C921.04,282.62 920.83,283.80 920.49,284.98C920.16,286.17 919.76,287.32 919.33,288.24C918.90,289.17 918.47,289.85 917.90,290.54C917.34,291.23 916.65,291.89 915.95,292.38C915.25,292.87 914.39,293.26 913.70,293.49C913.01,293.73 912.31,293.80 911.83,293.80C911.34,293.80 911.01,293.70 910.78,293.49C910.54,293.29 910.38,292.87 910.40,292.57C910.42,292.27 910.65,291.90 910.89,291.69C911.13,291.49 911.48,291.40 911.83,291.35C912.17,291.29 912.60,291.46 912.95,291.35C913.30,291.23 913.56,291.09 913.93,290.66C914.30,290.22 914.81,289.49 915.17,288.74C915.52,287.99 915.76,287.21 916.07,286.13C916.37,285.06 916.69,283.77 917.00,282.30C917.32,280.83 917.60,279.11 917.94,277.32C918.29,275.53 918.76,273.22 919.07,271.57C919.37,269.92 920.21,268.12 919.78,267.43C919.35,266.74 917.06,267.71 916.52,267.43C915.97,267.15 915.86,266.06 916.52,265.74C917.17,265.42 919.71,265.95 920.46,265.51C921.21,265.08 920.80,263.98 921.02,263.13C921.24,262.29 921.42,261.28 921.77,260.45C922.11,259.62 922.55,258.82 923.08,258.15C923.61,257.48 924.21,256.87 924.96,256.43C925.71,255.98 926.71,255.67 927.58,255.47C928.46,255.26 929.40,255.17 930.21,255.20C931.02,255.23 931.93,255.46 932.46,255.66Z" fill="#000"/>
<text transform="matrix(0.3409 0.0000 0.0000 0.2969 935.3042 270.4000)" font-family='"Liberation Serif"' font-style="normal" font-weight="normal" font-size="100" fill="#000" stroke="#000" stroke-width="0.9408">1</text>
<path d="M969.50,247.60 L967.30,248.85 L965.72,250.10 L964.46,251.35 L963.40,252.60 L962.49,253.85 L961.70,255.10 L961.01,256.35 L960.40,257.60 L959.86,258.85 L959.38,260.10 L958.97,261.35 L958.60,262.60 L958.29,263.85 L958.02,265.10 L957.80,266.35 L957.62,267.60 L957.48,268.85 L957.38,270.10 L957.32,271.35 L957.30,272.60 L957.32,273.85 L957.38,275.10 L957.48,276.35 L957.62,277.60 L957.80,278.85 L958.02,280.10 L958.29,281.35 L958.60,282.60 L958.97,283.85 L959.38,285.10 L959.86,286.35 L960.40,287.60 L961.01,288.85 L961.70,290.10 L962.49,291.35 L963.40,292.60 L964.46,293.85 L965.72,295.10 L967.30,296.35 L969.50,297.60 L971.80,297.60 L969.79,296.35 L968.38,295.10 L967.26,293.85 L966.34,292.60 L965.55,291.35 L964.86,290.10 L964.25,288.85 L963.72,287.60 L963.24,286.35 L962.82,285.10 L962.45,283.85 L962.12,282.60 L961.83,281.35 L961.58,280.10 L961.38,278.85 L961.21,277.60 L961.07,276.35 L960.98,275.10 L960.92,273.85 L960.90,272.60 L960.92,271.35 L960.98,270.10 L961.07,268.85 L961.21,267.60 L961.38,266.35 L961.58,265.10 L961.83,263.85 L962.12,262.60 L962.45,261.35 L962.82,260.10 L963.24,258.85 L963.72,257.60 L964.25,256.35 L964.86,255.10 L965.55,253.85 L966.34,252.60 L967.26,251.35 L968.38,250.10 L969.79,248.85 L971.80,247.60Z" fill="#000"/>
<text transform="matrix(0.4933 0.0000 0.0000 0.4221 973.0979 284.5878)" font-family='"Liberation Serif"' font-style="italic" font-weight="normal" font-size="100" fill="#000" stroke="#000" stroke-width="0.2622">s</text>
<text transform="matrix(0.3238 0.0000 0.0000 0.2878 990.5540 293.2000)" font-family='"Liberation Serif"' font-style="normal" font-weight="normal" font-size="100" fill="#000" stroke="#000" stroke-width="0.9810">1</text>
<text transform="matrix(0.3357 0.0000 0.0000 0.3115 1005.7213 292.2091)" font-family='"Liberation Serif"' font-style="normal" font-weight="normal" font-size="100" fill="#000" stroke="#000" stroke-width="0.9270">,</text>
<text transform="matrix(0.3537 0.0000 0.0000 0.2825 1014.4809 293.2000)" font-family='"Liberation Serif"' font-style="italic" font-weight="normal" font-size="100" fill="#000" stroke="#000" stroke-width="0.6287">k</text>
<path d="M1038.10,247.60 L1040.19,248.85 L1041.69,250.10 L1042.89,251.35 L1043.90,252.60 L1044.76,253.85 L1045.51,255.10 L1046.17,256.35 L1046.75,257.60 L1047.27,258.85 L1047.72,260.10 L1048.12,261.35 L1048.46,262.60 L1048.76,263.85 L1049.02,265.10 L1049.23,266.35 L1049.40,267.60 L1049.53,268.85 L1049.63,270.10 L1049.68,271.35 L1049.70,272.60 L1049.68,273.85 L1049.63,275.10 L1049.53,276.35 L1049.40,277.60 L1049.23,278.85 L1049.02,280.10 L1048.76,281.35 L1048.46,282.60 L1048.12,283.85 L1047.72,285.10 L1047.27,286.35 L1046.75,287.60 L1046.17,288.85 L1045.51,290.10 L1044.76,291.35 L1043.90,292.60 L1042.89,293.85 L1041.69,295.10 L1040.19,296.35 L1038.10,297.60 L1035.80,297.60 L1037.70,296.35 L1039.04,295.10 L1040.09,293.85 L1040.96,292.60 L1041.71,291.35 L1042.36,290.10 L1042.93,288.85 L1043.43,287.60 L1043.88,286.35 L1044.28,285.10 L1044.63,283.85 L1044.95,282.60 L1045.22,281.35 L1045.45,280.10 L1045.65,278.85 L1045.81,277.60 L1045.94,276.35 L1046.03,275.10 L1046.08,273.85 L1046.10,272.60 L1046.08,271.35 L1046.03,270.10 L1045.94,268.85 L1045.81,267.60 L1045.65,266.35 L1045.45,265.10 L1045.22,263.85 L1044.95,262.60 L1044.63,261.35 L1044.28,260.10 L1043.88,258.85 L1043.43,257.60 L1042.93,256.35 L1042.36,255.10 L1041.71,253.85 L1040.96,252.60 L1040.09,251.35 L1039.04,250.10 L1037.70,248.85 L1035.80,247.60Z" fill="#000"/>
<text transform="matrix(0.3511 0.0000 0.0000 0.4261 909.9371 359.7000)" font-family='"Liberation Serif"' font-style="italic" font-weight="normal" font-size="100" fill="#000" stroke="#000" stroke-width="1.0294">I</text>
<text transform="matrix(0.4977 0.0000 0.0000 0.4153 923.7168 359.2945)" font-family='"Liberation Serif"' font-style="italic" font-weight="normal" font-size="100" fill="#000" stroke="#000" stroke-width="0.2629">S</text>
<text transform="matrix(0.3516 0.0000 0.0000 0.4153 947.2316 359.2945)" font-family='"Liberation Serif"' font-style="italic" font-weight="normal" font-size="100" fill="#000" stroke="#000" stroke-width="1.0432">O</text>
<text transform="matrix(0.3437 0.0000 0.0000 0.2878 970.6792 368.0000)" font-family='"Liberation Serif"' font-style="normal" font-weight="normal" font-size="100" fill="#000" stroke="#000" stroke-width="0.9501">1</text>
<text transform="matrix(0.3357 0.0000 0.0000 0.3115 986.7213 367.2091)" font-family='"Liberation Serif"' font-style="normal" font-weight="normal" font-size="100" fill="#000" stroke="#000" stroke-width="0.9270">,</text>
<text transform="matrix(0.4143 0.0000 0.0000 0.2738 993.4066 368.0000)" font-family='"Liberation Serif"' font-style="italic" font-weight="normal" font-size="100" fill="#000" stroke="#000" stroke-width="0.5813">k</text>
<path d="M404.56,249.36C405.09,249.56 405.39,249.71 405.50,250.13C405.61,250.54 405.46,251.39 405.24,251.85C405.02,252.32 404.55,252.77 404.19,252.92C403.82,253.08 403.41,252.96 403.06,252.81C402.72,252.66 402.37,252.34 402.12,252.04C401.87,251.74 401.81,251.28 401.56,251.01C401.31,250.74 400.99,250.52 400.62,250.43C400.26,250.35 399.79,250.37 399.38,250.51C398.98,250.65 398.54,250.89 398.18,251.28C397.83,251.66 397.51,252.20 397.25,252.81C396.98,253.42 396.76,254.12 396.57,254.92C396.38,255.72 396.24,256.90 396.12,257.60C396.00,258.30 395.08,258.93 395.86,259.13C396.64,259.34 399.97,258.54 400.81,258.83C401.65,259.12 401.75,260.49 400.88,260.86C400.02,261.23 396.56,260.44 395.63,261.05C394.71,261.66 395.53,263.03 395.33,264.50C395.14,265.97 394.78,268.14 394.47,269.87C394.16,271.59 393.77,273.38 393.46,274.85C393.14,276.32 392.93,277.50 392.59,278.68C392.26,279.87 391.86,281.02 391.43,281.94C391.00,282.87 390.57,283.55 390.00,284.24C389.44,284.93 388.75,285.59 388.05,286.08C387.35,286.57 386.49,286.96 385.80,287.19C385.11,287.43 384.41,287.50 383.93,287.50C383.44,287.50 383.11,287.40 382.88,287.19C382.64,286.99 382.48,286.57 382.50,286.27C382.52,285.97 382.75,285.60 382.99,285.39C383.23,285.19 383.58,285.10 383.93,285.05C384.27,284.99 384.70,285.16 385.05,285.05C385.40,284.93 385.66,284.79 386.03,284.36C386.40,283.92 386.91,283.19 387.27,282.44C387.62,281.69 387.86,280.91 388.17,279.83C388.47,278.76 388.79,277.47 389.10,276.00C389.42,274.53 389.70,272.81 390.04,271.02C390.39,269.23 390.86,266.92 391.17,265.27C391.47,263.62 392.31,261.82 391.88,261.13C391.45,260.44 389.16,261.41 388.62,261.13C388.07,260.85 387.96,259.76 388.62,259.44C389.27,259.12 391.81,259.65 392.56,259.21C393.31,258.78 392.90,257.68 393.12,256.83C393.34,255.99 393.52,254.98 393.87,254.15C394.21,253.32 394.65,252.52 395.18,251.85C395.71,251.18 396.31,250.57 397.06,250.13C397.81,249.68 398.81,249.37 399.68,249.17C400.56,248.96 401.50,248.87 402.31,248.90C403.12,248.93 404.03,249.16 404.56,249.36Z" fill="#000"/>
<text transform="matrix(0.3494 0.0000 0.0000 0.2908 407.6293 263.3000)" font-family='"Liberation Serif"' font-style="normal" font-weight="normal" font-size="100" fill="#000" stroke="#000" stroke-width="0.9372">1</text>
<path d="M442.00,240.90 L439.82,242.15 L438.26,243.41 L437.00,244.66 L435.95,245.91 L435.05,247.16 L434.27,248.41 L433.58,249.67 L432.97,250.92 L432.44,252.17 L431.97,253.42 L431.55,254.68 L431.19,255.93 L430.88,257.18 L430.61,258.44 L430.39,259.69 L430.21,260.94 L430.08,262.19 L429.98,263.44 L429.92,264.70 L429.90,265.95 L429.92,267.20 L429.98,268.45 L430.08,269.71 L430.21,270.96 L430.39,272.21 L430.61,273.46 L430.88,274.72 L431.19,275.97 L431.55,277.22 L431.97,278.47 L432.44,279.73 L432.97,280.98 L433.58,282.23 L434.27,283.49 L435.05,284.74 L435.95,285.99 L437.00,287.24 L438.26,288.50 L439.82,289.75 L442.00,291.00 L444.30,291.00 L442.31,289.75 L440.91,288.50 L439.80,287.24 L438.89,285.99 L438.10,284.74 L437.42,283.49 L436.82,282.23 L436.29,280.98 L435.82,279.73 L435.40,278.47 L435.03,277.22 L434.71,275.97 L434.42,274.72 L434.18,273.46 L433.97,272.21 L433.80,270.96 L433.67,269.71 L433.58,268.45 L433.52,267.20 L433.50,265.95 L433.52,264.70 L433.58,263.44 L433.67,262.19 L433.80,260.94 L433.97,259.69 L434.18,258.44 L434.42,257.18 L434.71,255.93 L435.03,254.68 L435.40,253.42 L435.82,252.17 L436.29,250.92 L436.82,249.67 L437.42,248.41 L438.10,247.16 L438.89,245.91 L439.80,244.66 L440.91,243.41 L442.31,242.15 L444.30,240.90Z" fill="#000"/>
<text transform="matrix(0.4218 0.0000 0.0000 0.4298 446.0996 278.1505)" font-family='"Liberation Serif"' font-style="italic" font-weight="normal" font-size="100" fill="#000" stroke="#000" stroke-width="0.9395">q</text>
<text transform="matrix(0.3636 0.0000 0.0000 0.2590 465.7044 287.3000)" font-family='"Liberation Serif"' font-style="normal" font-weight="normal" font-size="100" fill="#000" stroke="#000" stroke-width="0.9637">1</text>
<text transform="matrix(0.3559 0.0000 0.0000 0.2920 482.4446 285.5086)" font-family='"Liberation Serif"' font-style="normal" font-weight="normal" font-size="100" fill="#000" stroke="#000" stroke-width="0.9261">,</text>
<text transform="matrix(0.3607 0.0000 0.0000 0.3084 490.7608 287.3000)" font-family='"Liberation Serif"' font-style="italic" font-weight="normal" font-size="100" fill="#000" stroke="#000" stroke-width="0.5978">k</text>
<path d="M514.40,240.90 L516.47,242.15 L517.96,243.41 L519.15,244.66 L520.15,245.91 L521.00,247.16 L521.75,248.41 L522.40,249.67 L522.98,250.92 L523.49,252.17 L523.94,253.42 L524.33,254.68 L524.67,255.93 L524.97,257.18 L525.22,258.44 L525.43,259.69 L525.60,260.94 L525.73,262.19 L525.83,263.44 L525.88,264.70 L525.90,265.95 L525.88,267.20 L525.83,268.45 L525.73,269.71 L525.60,270.96 L525.43,272.21 L525.22,273.46 L524.97,274.72 L524.67,275.97 L524.33,277.22 L523.94,278.47 L523.49,279.73 L522.98,280.98 L522.40,282.23 L521.75,283.49 L521.00,284.74 L520.15,285.99 L519.15,287.24 L517.96,288.50 L516.47,289.75 L514.40,291.00 L512.10,291.00 L513.98,289.75 L515.31,288.50 L516.35,287.24 L517.21,285.99 L517.95,284.74 L518.59,283.49 L519.16,282.23 L519.66,280.98 L520.10,279.73 L520.50,278.47 L520.85,277.22 L521.16,275.97 L521.43,274.72 L521.66,273.46 L521.85,272.21 L522.01,270.96 L522.14,269.71 L522.23,268.45 L522.28,267.20 L522.30,265.95 L522.28,264.70 L522.23,263.44 L522.14,262.19 L522.01,260.94 L521.85,259.69 L521.66,258.44 L521.43,257.18 L521.16,255.93 L520.85,254.68 L520.50,253.42 L520.10,252.17 L519.66,250.92 L519.16,249.67 L518.59,248.41 L517.95,247.16 L517.21,245.91 L516.35,244.66 L515.31,243.41 L513.98,242.15 L512.10,240.90Z" fill="#000"/>
<path d="M400.36,322.56C400.89,322.76 401.19,322.91 401.30,323.33C401.41,323.74 401.26,324.59 401.04,325.05C400.82,325.52 400.35,325.97 399.99,326.12C399.62,326.28 399.21,326.16 398.86,326.01C398.52,325.86 398.17,325.54 397.92,325.24C397.67,324.94 397.61,324.48 397.36,324.21C397.11,323.94 396.79,323.72 396.42,323.63C396.06,323.55 395.59,323.57 395.18,323.71C394.78,323.85 394.34,324.09 393.98,324.48C393.63,324.86 393.31,325.40 393.05,326.01C392.78,326.62 392.56,327.32 392.37,328.12C392.18,328.92 392.04,330.10 391.92,330.80C391.80,331.50 390.88,332.13 391.66,332.33C392.44,332.54 395.77,331.74 396.61,332.03C397.45,332.32 397.55,333.69 396.68,334.06C395.82,334.43 392.36,333.64 391.43,334.25C390.51,334.86 391.33,336.23 391.13,337.70C390.94,339.17 390.58,341.34 390.27,343.07C389.96,344.79 389.57,346.58 389.26,348.05C388.94,349.52 388.73,350.70 388.39,351.88C388.06,353.07 387.66,354.22 387.23,355.14C386.80,356.07 386.37,356.75 385.80,357.44C385.24,358.13 384.55,358.79 383.85,359.28C383.15,359.77 382.29,360.16 381.60,360.39C380.91,360.63 380.21,360.70 379.73,360.70C379.24,360.70 378.91,360.60 378.68,360.39C378.44,360.19 378.28,359.77 378.30,359.47C378.32,359.17 378.55,358.80 378.79,358.59C379.03,358.39 379.38,358.30 379.73,358.25C380.07,358.19 380.50,358.36 380.85,358.25C381.20,358.13 381.46,357.99 381.83,357.56C382.20,357.12 382.71,356.39 383.07,355.64C383.42,354.89 383.66,354.11 383.97,353.03C384.27,351.96 384.59,350.67 384.90,349.20C385.22,347.73 385.50,346.01 385.84,344.22C386.19,342.43 386.66,340.12 386.97,338.47C387.27,336.82 388.11,335.02 387.68,334.33C387.25,333.64 384.96,334.61 384.42,334.33C383.87,334.05 383.76,332.96 384.42,332.64C385.07,332.32 387.61,332.85 388.36,332.41C389.11,331.98 388.70,330.88 388.92,330.03C389.14,329.19 389.32,328.18 389.67,327.35C390.01,326.52 390.45,325.72 390.98,325.05C391.51,324.38 392.11,323.77 392.86,323.33C393.61,322.88 394.61,322.57 395.48,322.37C396.36,322.16 397.30,322.07 398.11,322.10C398.92,322.13 399.83,322.36 400.36,322.56Z" fill="#000"/>
<text transform="matrix(0.3607 0.0000 0.0000 0.2878 403.0294 336.0000)" font-family='"Liberation Serif"' font-style="normal" font-weight="normal" font-size="100" fill="#000" stroke="#000" stroke-width="0.9251">1</text>
<path d="M438.10,314.50 L436.01,315.75 L434.51,317.00 L433.31,318.25 L432.30,319.50 L431.44,320.75 L430.69,322.00 L430.03,323.25 L429.45,324.50 L428.93,325.75 L428.48,327.00 L428.08,328.25 L427.74,329.50 L427.44,330.75 L427.18,332.00 L426.97,333.25 L426.80,334.50 L426.67,335.75 L426.57,337.00 L426.52,338.25 L426.50,339.50 L426.52,340.75 L426.57,342.00 L426.67,343.25 L426.80,344.50 L426.97,345.75 L427.18,347.00 L427.44,348.25 L427.74,349.50 L428.08,350.75 L428.48,352.00 L428.93,353.25 L429.45,354.50 L430.03,355.75 L430.69,357.00 L431.44,358.25 L432.30,359.50 L433.31,360.75 L434.51,362.00 L436.01,363.25 L438.10,364.50 L440.40,364.50 L438.50,363.25 L437.16,362.00 L436.11,360.75 L435.24,359.50 L434.49,358.25 L433.84,357.00 L433.27,355.75 L432.77,354.50 L432.32,353.25 L431.92,352.00 L431.57,350.75 L431.25,349.50 L430.98,348.25 L430.75,347.00 L430.55,345.75 L430.39,344.50 L430.26,343.25 L430.17,342.00 L430.12,340.75 L430.10,339.50 L430.12,338.25 L430.17,337.00 L430.26,335.75 L430.39,334.50 L430.55,333.25 L430.75,332.00 L430.98,330.75 L431.25,329.50 L431.57,328.25 L431.92,327.00 L432.32,325.75 L432.77,324.50 L433.27,323.25 L433.84,322.00 L434.49,320.75 L435.24,319.50 L436.11,318.25 L437.16,317.00 L438.50,315.75 L440.40,314.50Z" fill="#000"/>
<text transform="matrix(0.3436 0.0000 0.0000 0.4261 443.0845 351.9000)" font-family='"Liberation Serif"' font-style="italic" font-weight="normal" font-size="100" fill="#000" stroke="#000" stroke-width="1.0394">P</text>
<text transform="matrix(0.3516 0.0000 0.0000 0.4380 467.5599 352.3998)" font-family='"Liberation Serif"' font-style="italic" font-weight="normal" font-size="100" fill="#000" stroke="#000" stroke-width="1.0132">Q</text>
<text transform="matrix(0.3607 0.0000 0.0000 0.2878 492.3294 360.1000)" font-family='"Liberation Serif"' font-style="normal" font-weight="normal" font-size="100" fill="#000" stroke="#000" stroke-width="0.9251">1</text>
<text transform="matrix(0.3425 0.0000 0.0000 0.3076 509.9957 359.1690)" font-family='"Liberation Serif"' font-style="normal" font-weight="normal" font-size="100" fill="#000" stroke="#000" stroke-width="0.9230">,</text>
<text transform="matrix(0.3817 0.0000 0.0000 0.2825 516.6005 360.1000)" font-family='"Liberation Serif"' font-style="italic" font-weight="normal" font-size="100" fill="#000" stroke="#000" stroke-width="0.6023">k</text>
<path d="M540.90,314.50 L542.99,315.75 L544.49,317.00 L545.69,318.25 L546.70,319.50 L547.56,320.75 L548.31,322.00 L548.97,323.25 L549.55,324.50 L550.07,325.75 L550.52,327.00 L550.92,328.25 L551.26,329.50 L551.56,330.75 L551.82,332.00 L552.03,333.25 L552.20,334.50 L552.33,335.75 L552.43,337.00 L552.48,338.25 L552.50,339.50 L552.48,340.75 L552.43,342.00 L552.33,343.25 L552.20,344.50 L552.03,345.75 L551.82,347.00 L551.56,348.25 L551.26,349.50 L550.92,350.75 L550.52,352.00 L550.07,353.25 L549.55,354.50 L548.97,355.75 L548.31,357.00 L547.56,358.25 L546.70,359.50 L545.69,360.75 L544.49,362.00 L542.99,363.25 L540.90,364.50 L538.60,364.50 L540.50,363.25 L541.84,362.00 L542.89,360.75 L543.76,359.50 L544.51,358.25 L545.16,357.00 L545.73,355.75 L546.23,354.50 L546.68,353.25 L547.08,352.00 L547.43,350.75 L547.75,349.50 L548.02,348.25 L548.25,347.00 L548.45,345.75 L548.61,344.50 L548.74,343.25 L548.83,342.00 L548.88,340.75 L548.90,339.50 L548.88,338.25 L548.83,337.00 L548.74,335.75 L548.61,334.50 L548.45,333.25 L548.25,332.00 L548.02,330.75 L547.75,329.50 L547.43,328.25 L547.08,327.00 L546.68,325.75 L546.23,324.50 L545.73,323.25 L545.16,322.00 L544.51,320.75 L543.76,319.50 L542.89,318.25 L541.84,317.00 L540.50,315.75 L538.60,314.50Z" fill="#000"/>
<path d="M931.16,506.96C931.69,507.16 931.99,507.31 932.10,507.73C932.21,508.14 932.06,508.99 931.84,509.45C931.62,509.92 931.15,510.37 930.79,510.52C930.42,510.68 930.01,510.56 929.66,510.41C929.32,510.26 928.97,509.94 928.72,509.64C928.47,509.34 928.41,508.88 928.16,508.61C927.91,508.34 927.59,508.12 927.22,508.03C926.86,507.95 926.39,507.97 925.98,508.11C925.58,508.25 925.14,508.49 924.78,508.88C924.43,509.26 924.11,509.80 923.85,510.41C923.58,511.02 923.36,511.72 923.17,512.52C922.98,513.32 922.84,514.50 922.72,515.20C922.60,515.90 921.68,516.53 922.46,516.73C923.24,516.94 926.57,516.14 927.41,516.43C928.25,516.72 928.35,518.09 927.48,518.46C926.62,518.83 923.16,518.04 922.23,518.65C921.31,519.26 922.13,520.63 921.93,522.10C921.74,523.57 921.38,525.74 921.07,527.47C920.76,529.19 920.37,530.98 920.06,532.45C919.74,533.92 919.53,535.10 919.19,536.28C918.86,537.47 918.46,538.62 918.03,539.54C917.60,540.47 917.17,541.15 916.60,541.84C916.04,542.53 915.35,543.19 914.65,543.68C913.95,544.17 913.09,544.56 912.40,544.79C911.71,545.03 911.01,545.10 910.53,545.10C910.04,545.10 909.71,545.00 909.48,544.79C909.24,544.59 909.08,544.17 909.10,543.87C909.12,543.57 909.35,543.20 909.59,542.99C909.83,542.79 910.18,542.70 910.53,542.65C910.87,542.59 911.30,542.76 911.65,542.65C912.00,542.53 912.26,542.39 912.63,541.96C913.00,541.52 913.51,540.79 913.87,540.04C914.22,539.29 914.46,538.51 914.77,537.43C915.07,536.36 915.39,535.07 915.70,533.60C916.02,532.13 916.30,530.41 916.64,528.62C916.99,526.83 917.46,524.52 917.77,522.87C918.07,521.22 918.91,519.42 918.48,518.73C918.05,518.04 915.76,519.01 915.22,518.73C914.67,518.45 914.56,517.36 915.22,517.04C915.87,516.72 918.41,517.25 919.16,516.81C919.91,516.38 919.50,515.28 919.72,514.43C919.94,513.59 920.12,512.58 920.47,511.75C920.81,510.92 921.25,510.12 921.78,509.45C922.31,508.78 922.91,508.17 923.66,507.73C924.41,507.28 925.41,506.97 926.28,506.77C927.16,506.56 928.10,506.47 928.91,506.50C929.72,506.53 930.63,506.76 931.16,506.96Z" fill="#000"/>
<text transform="matrix(0.3467 0.0000 0.0000 0.2975 934.8762 521.7000)" font-family='"Liberation Serif"' font-style="normal" font-weight="normal" font-size="100" fill="#000" stroke="#000" stroke-width="0.9313">2</text>
<path d="M968.90,507.10 L966.81,508.07 L965.31,509.03 L964.11,510.00 L963.10,510.96 L962.24,511.93 L961.49,512.89 L960.83,513.86 L960.25,514.82 L959.73,515.79 L959.28,516.75 L958.88,517.72 L958.54,518.68 L958.24,519.65 L957.98,520.61 L957.77,521.58 L957.60,522.54 L957.47,523.51 L957.37,524.47 L957.32,525.44 L957.30,526.40 L957.32,527.37 L957.37,528.33 L957.47,529.30 L957.60,530.26 L957.77,531.23 L957.98,532.19 L958.24,533.16 L958.54,534.12 L958.88,535.09 L959.28,536.05 L959.73,537.02 L960.25,537.98 L960.83,538.95 L961.49,539.91 L962.24,540.88 L963.10,541.84 L964.11,542.81 L965.31,543.77 L966.81,544.74 L968.90,545.70 L971.20,545.70 L969.25,544.74 L967.88,543.77 L966.79,542.81 L965.89,541.84 L965.12,540.88 L964.45,539.91 L963.85,538.95 L963.33,537.98 L962.87,537.02 L962.46,536.05 L962.09,535.09 L961.77,534.12 L961.50,533.16 L961.26,532.19 L961.06,531.23 L960.89,530.26 L960.76,529.30 L960.67,528.33 L960.62,527.37 L960.60,526.40 L960.62,525.44 L960.67,524.47 L960.76,523.51 L960.89,522.54 L961.06,521.58 L961.26,520.61 L961.50,519.65 L961.77,518.68 L962.09,517.72 L962.46,516.75 L962.87,515.79 L963.33,514.82 L963.85,513.86 L964.45,512.89 L965.12,511.93 L965.89,510.96 L966.79,510.00 L967.88,509.03 L969.25,508.07 L971.20,507.10Z" fill="#000"/>
<text transform="matrix(0.5404 0.0000 0.0000 0.4436 969.6097 537.5000)" font-family='"Liberation Serif"' font-style="italic" font-weight="normal" font-size="100" fill="#000" stroke="#fff" stroke-width="1.0163">r</text>
<text transform="matrix(0.3467 0.0000 0.0000 0.2870 986.7762 545.7000)" font-family='"Liberation Serif"' font-style="normal" font-weight="normal" font-size="100" fill="#000" stroke="#000" stroke-width="0.9468">2</text>
<text transform="matrix(0.3357 0.0000 0.0000 0.3076 1003.2213 544.1690)" font-family='"Liberation Serif"' font-style="normal" font-weight="normal" font-size="100" fill="#000" stroke="#000" stroke-width="0.9327">,</text>
<text transform="matrix(0.3700 0.0000 0.0000 0.2911 1010.6340 545.7000)" font-family='"Liberation Serif"' font-style="italic" font-weight="normal" font-size="100" fill="#000" stroke="#000" stroke-width="0.6050">k</text>
<path d="M1033.70,507.10 L1035.79,508.07 L1037.29,509.03 L1038.49,510.00 L1039.50,510.96 L1040.36,511.93 L1041.11,512.89 L1041.77,513.86 L1042.35,514.82 L1042.87,515.79 L1043.32,516.75 L1043.72,517.72 L1044.06,518.68 L1044.36,519.65 L1044.62,520.61 L1044.83,521.58 L1045.00,522.54 L1045.13,523.51 L1045.23,524.47 L1045.28,525.44 L1045.30,526.40 L1045.28,527.37 L1045.23,528.33 L1045.13,529.30 L1045.00,530.26 L1044.83,531.23 L1044.62,532.19 L1044.36,533.16 L1044.06,534.12 L1043.72,535.09 L1043.32,536.05 L1042.87,537.02 L1042.35,537.98 L1041.77,538.95 L1041.11,539.91 L1040.36,540.88 L1039.50,541.84 L1038.49,542.81 L1037.29,543.77 L1035.79,544.74 L1033.70,545.70 L1031.40,545.70 L1033.35,544.74 L1034.72,543.77 L1035.81,542.81 L1036.71,541.84 L1037.48,540.88 L1038.15,539.91 L1038.75,538.95 L1039.27,537.98 L1039.73,537.02 L1040.14,536.05 L1040.51,535.09 L1040.83,534.12 L1041.10,533.16 L1041.34,532.19 L1041.54,531.23 L1041.71,530.26 L1041.84,529.30 L1041.93,528.33 L1041.98,527.37 L1042.00,526.40 L1041.98,525.44 L1041.93,524.47 L1041.84,523.51 L1041.71,522.54 L1041.54,521.58 L1041.34,520.61 L1041.10,519.65 L1040.83,518.68 L1040.51,517.72 L1040.14,516.75 L1039.73,515.79 L1039.27,514.82 L1038.75,513.86 L1038.15,512.89 L1037.48,511.93 L1036.71,510.96 L1035.81,510.00 L1034.72,509.03 L1033.35,508.07 L1031.40,507.10Z" fill="#000"/>
<path d="M921.46,617.46C921.99,617.66 922.29,617.81 922.40,618.23C922.51,618.64 922.36,619.49 922.14,619.95C921.92,620.42 921.45,620.87 921.09,621.02C920.72,621.18 920.31,621.06 919.96,620.91C919.62,620.76 919.27,620.44 919.02,620.14C918.77,619.84 918.71,619.38 918.46,619.11C918.21,618.84 917.89,618.62 917.52,618.53C917.16,618.45 916.69,618.47 916.28,618.61C915.88,618.75 915.44,618.99 915.08,619.38C914.73,619.76 914.41,620.30 914.15,620.91C913.88,621.52 913.66,622.22 913.47,623.02C913.28,623.82 913.14,625.00 913.02,625.70C912.90,626.40 911.98,627.03 912.76,627.23C913.54,627.44 916.87,626.64 917.71,626.93C918.55,627.22 918.65,628.59 917.78,628.96C916.92,629.33 913.46,628.54 912.53,629.15C911.61,629.76 912.43,631.13 912.23,632.60C912.04,634.07 911.68,636.24 911.37,637.97C911.06,639.69 910.67,641.48 910.36,642.95C910.04,644.42 909.83,645.60 909.49,646.78C909.16,647.97 908.76,649.12 908.33,650.04C907.90,650.97 907.47,651.65 906.90,652.34C906.34,653.03 905.65,653.69 904.95,654.18C904.25,654.67 903.39,655.06 902.70,655.29C902.01,655.53 901.31,655.60 900.83,655.60C900.34,655.60 900.01,655.50 899.78,655.29C899.54,655.09 899.38,654.67 899.40,654.37C899.42,654.07 899.65,653.70 899.89,653.49C900.13,653.29 900.48,653.20 900.83,653.15C901.17,653.09 901.60,653.26 901.95,653.15C902.30,653.03 902.56,652.89 902.93,652.46C903.30,652.02 903.81,651.29 904.17,650.54C904.52,649.79 904.76,649.01 905.07,647.93C905.37,646.86 905.69,645.57 906.00,644.10C906.32,642.63 906.60,640.91 906.94,639.12C907.29,637.33 907.76,635.02 908.07,633.37C908.37,631.72 909.21,629.92 908.78,629.23C908.35,628.54 906.06,629.51 905.52,629.23C904.97,628.95 904.86,627.86 905.52,627.54C906.17,627.22 908.71,627.75 909.46,627.31C910.21,626.88 909.80,625.78 910.02,624.93C910.24,624.09 910.42,623.08 910.77,622.25C911.11,621.42 911.55,620.62 912.08,619.95C912.61,619.28 913.21,618.67 913.96,618.23C914.71,617.78 915.71,617.47 916.58,617.27C917.46,617.06 918.40,616.97 919.21,617.00C920.02,617.03 920.93,617.26 921.46,617.46Z" fill="#000"/>
<text transform="matrix(0.3268 0.0000 0.0000 0.2870 924.8639 631.4000)" font-family='"Liberation Serif"' font-style="normal" font-weight="normal" font-size="100" fill="#000" stroke="#000" stroke-width="0.9776">2</text>
<path d="M958.60,609.80 L956.55,611.04 L955.07,612.28 L953.89,613.53 L952.90,614.77 L952.05,616.01 L951.32,617.25 L950.67,618.50 L950.10,619.74 L949.59,620.98 L949.15,622.22 L948.76,623.47 L948.42,624.71 L948.12,625.95 L947.87,627.19 L947.66,628.44 L947.50,629.68 L947.37,630.92 L947.27,632.16 L947.22,633.41 L947.20,634.65 L947.22,635.89 L947.27,637.13 L947.37,638.38 L947.50,639.62 L947.66,640.86 L947.87,642.11 L948.12,643.35 L948.42,644.59 L948.76,645.83 L949.15,647.08 L949.59,648.32 L950.10,649.56 L950.67,650.80 L951.32,652.04 L952.05,653.29 L952.90,654.53 L953.89,655.77 L955.07,657.01 L956.55,658.26 L958.60,659.50 L960.90,659.50 L959.03,658.26 L957.72,657.01 L956.69,655.77 L955.84,654.53 L955.11,653.29 L954.47,652.04 L953.91,650.80 L953.42,649.56 L952.98,648.32 L952.58,647.08 L952.24,645.83 L951.93,644.59 L951.67,643.35 L951.44,642.11 L951.24,640.86 L951.08,639.62 L950.96,638.38 L950.87,637.13 L950.82,635.89 L950.80,634.65 L950.82,633.41 L950.87,632.16 L950.96,630.92 L951.08,629.68 L951.24,628.44 L951.44,627.19 L951.67,625.95 L951.93,624.71 L952.24,623.47 L952.58,622.22 L952.98,620.98 L953.42,619.74 L953.91,618.50 L954.47,617.25 L955.11,616.01 L955.84,614.77 L956.69,613.53 L957.72,612.28 L959.03,611.04 L960.90,609.80Z" fill="#000"/>
<text transform="matrix(0.4529 0.0000 0.0000 0.3950 963.0472 646.1142)" font-family='"Liberation Serif"' font-style="italic" font-weight="normal" font-size="100" fill="#000" stroke="#000" stroke-width="0.2830">s</text>
<text transform="matrix(0.3442 0.0000 0.0000 0.2764 980.9872 655.6000)" font-family='"Liberation Serif"' font-style="normal" font-weight="normal" font-size="100" fill="#000" stroke="#000" stroke-width="0.9668">2</text>
<text transform="matrix(0.3357 0.0000 0.0000 0.2920 997.2213 654.5086)" font-family='"Liberation Serif"' font-style="normal" font-weight="normal" font-size="100" fill="#000" stroke="#000" stroke-width="0.9558">,</text>
<text transform="matrix(0.3654 0.0000 0.0000 0.2926 1005.0474 655.6000)" font-family='"Liberation Serif"' font-style="italic" font-weight="normal" font-size="100" fill="#000" stroke="#000" stroke-width="0.6079">k</text>
<path d="M1028.70,609.80 L1030.88,611.04 L1032.44,612.28 L1033.70,613.53 L1034.75,614.77 L1035.65,616.01 L1036.43,617.25 L1037.12,618.50 L1037.73,619.74 L1038.26,620.98 L1038.73,622.22 L1039.15,623.47 L1039.51,624.71 L1039.82,625.95 L1040.09,627.19 L1040.31,628.44 L1040.49,629.68 L1040.62,630.92 L1040.72,632.16 L1040.78,633.41 L1040.80,634.65 L1040.78,635.89 L1040.72,637.13 L1040.62,638.38 L1040.49,639.62 L1040.31,640.86 L1040.09,642.11 L1039.82,643.35 L1039.51,644.59 L1039.15,645.83 L1038.73,647.08 L1038.26,648.32 L1037.73,649.56 L1037.12,650.80 L1036.43,652.04 L1035.65,653.29 L1034.75,654.53 L1033.70,655.77 L1032.44,657.01 L1030.88,658.26 L1028.70,659.50 L1026.40,659.50 L1028.39,658.26 L1029.79,657.01 L1030.90,655.77 L1031.81,654.53 L1032.60,653.29 L1033.28,652.04 L1033.88,650.80 L1034.41,649.56 L1034.88,648.32 L1035.30,647.08 L1035.67,645.83 L1035.99,644.59 L1036.28,643.35 L1036.52,642.11 L1036.73,640.86 L1036.90,639.62 L1037.03,638.38 L1037.12,637.13 L1037.18,635.89 L1037.20,634.65 L1037.18,633.41 L1037.12,632.16 L1037.03,630.92 L1036.90,629.68 L1036.73,628.44 L1036.52,627.19 L1036.28,625.95 L1035.99,624.71 L1035.67,623.47 L1035.30,622.22 L1034.88,620.98 L1034.41,619.74 L1033.88,618.50 L1033.28,617.25 L1032.60,616.01 L1031.81,614.77 L1030.90,613.53 L1029.79,612.28 L1028.39,611.04 L1026.40,609.80Z" fill="#000"/>
<text transform="matrix(0.3511 0.0000 0.0000 0.4200 903.5371 745.3000)" font-family='"Liberation Serif"' font-style="italic" font-weight="normal" font-size="100" fill="#000" stroke="#000" stroke-width="1.0375">I</text>
<text transform="matrix(0.4977 0.0000 0.0000 0.4093 917.3168 744.9003)" font-family='"Liberation Serif"' font-style="italic" font-weight="normal" font-size="100" fill="#000" stroke="#000" stroke-width="0.2646">S</text>
<text transform="matrix(0.3439 0.0000 0.0000 0.4093 940.8704 744.9003)" font-family='"Liberation Serif"' font-style="italic" font-weight="normal" font-size="100" fill="#000" stroke="#000" stroke-width="1.0621">O</text>
<text transform="matrix(0.2944 0.0000 0.0000 0.2870 966.2065 754.4000)" font-family='"Liberation Serif"' font-style="normal" font-weight="normal" font-size="100" fill="#000" stroke="#000" stroke-width="1.0321">2</text>
<text transform="matrix(0.3357 0.0000 0.0000 0.3115 981.2213 753.2091)" font-family='"Liberation Serif"' font-style="normal" font-weight="normal" font-size="100" fill="#000" stroke="#000" stroke-width="0.9270">,</text>
<text transform="matrix(0.3654 0.0000 0.0000 0.2738 989.9474 754.4000)" font-family='"Liberation Serif"' font-style="italic" font-weight="normal" font-size="100" fill="#000" stroke="#000" stroke-width="0.6258">k</text>
<path d="M401.16,615.56C401.69,615.76 401.99,615.91 402.10,616.33C402.21,616.74 402.06,617.59 401.84,618.05C401.62,618.52 401.15,618.97 400.79,619.12C400.42,619.28 400.01,619.16 399.66,619.01C399.32,618.86 398.97,618.54 398.72,618.24C398.47,617.94 398.41,617.48 398.16,617.21C397.91,616.94 397.59,616.72 397.22,616.63C396.86,616.55 396.39,616.57 395.98,616.71C395.58,616.85 395.14,617.09 394.78,617.48C394.43,617.86 394.11,618.40 393.85,619.01C393.58,619.62 393.36,620.32 393.17,621.12C392.98,621.92 392.84,623.10 392.72,623.80C392.60,624.50 391.68,625.13 392.46,625.33C393.24,625.54 396.57,624.74 397.41,625.03C398.25,625.32 398.35,626.69 397.48,627.06C396.62,627.43 393.16,626.64 392.23,627.25C391.31,627.86 392.13,629.23 391.93,630.70C391.74,632.17 391.38,634.34 391.07,636.07C390.76,637.79 390.37,639.58 390.06,641.05C389.74,642.52 389.53,643.70 389.19,644.88C388.86,646.07 388.46,647.22 388.03,648.14C387.60,649.07 387.17,649.75 386.60,650.44C386.04,651.13 385.35,651.79 384.65,652.28C383.95,652.77 383.09,653.16 382.40,653.39C381.71,653.63 381.01,653.70 380.53,653.70C380.04,653.70 379.71,653.60 379.48,653.39C379.24,653.19 379.08,652.77 379.10,652.47C379.12,652.17 379.35,651.80 379.59,651.59C379.83,651.39 380.18,651.30 380.53,651.25C380.87,651.19 381.30,651.36 381.65,651.25C382.00,651.13 382.26,650.99 382.63,650.56C383.00,650.12 383.51,649.39 383.87,648.64C384.22,647.89 384.46,647.11 384.77,646.03C385.07,644.96 385.39,643.67 385.70,642.20C386.02,640.73 386.30,639.01 386.64,637.22C386.99,635.43 387.46,633.12 387.77,631.47C388.07,629.82 388.91,628.02 388.48,627.33C388.05,626.64 385.76,627.61 385.22,627.33C384.67,627.05 384.56,625.96 385.22,625.64C385.87,625.32 388.41,625.85 389.16,625.41C389.91,624.98 389.50,623.88 389.72,623.03C389.94,622.19 390.12,621.18 390.47,620.35C390.81,619.52 391.25,618.72 391.78,618.05C392.31,617.38 392.91,616.77 393.66,616.33C394.41,615.88 395.41,615.57 396.28,615.37C397.16,615.16 398.10,615.07 398.91,615.10C399.72,615.13 400.63,615.36 401.16,615.56Z" fill="#000"/>
<text transform="matrix(0.3667 0.0000 0.0000 0.2492 403.4886 629.0000)" font-family='"Liberation Serif"' font-style="normal" font-weight="normal" font-size="100" fill="#000" stroke="#000" stroke-width="0.9742">2</text>
<path d="M438.30,607.30 L436.07,608.53 L434.46,609.77 L433.18,611.00 L432.10,612.24 L431.18,613.47 L430.38,614.71 L429.67,615.94 L429.05,617.18 L428.50,618.41 L428.02,619.65 L427.59,620.88 L427.22,622.12 L426.90,623.36 L426.63,624.59 L426.40,625.83 L426.22,627.06 L426.08,628.29 L425.98,629.53 L425.92,630.76 L425.90,632.00 L425.92,633.24 L425.98,634.47 L426.08,635.71 L426.22,636.94 L426.40,638.17 L426.63,639.41 L426.90,640.64 L427.22,641.88 L427.59,643.12 L428.02,644.35 L428.50,645.59 L429.05,646.82 L429.67,648.06 L430.38,649.29 L431.18,650.53 L432.10,651.76 L433.18,653.00 L434.46,654.23 L436.07,655.47 L438.30,656.70 L440.60,656.70 L438.55,655.47 L437.11,654.23 L435.98,653.00 L435.04,651.76 L434.23,650.53 L433.53,649.29 L432.91,648.06 L432.37,646.82 L431.89,645.59 L431.46,644.35 L431.08,643.12 L430.74,641.88 L430.45,640.64 L430.20,639.41 L429.98,638.17 L429.81,636.94 L429.68,635.71 L429.58,634.47 L429.52,633.24 L429.50,632.00 L429.52,630.76 L429.58,629.53 L429.68,628.29 L429.81,627.06 L429.98,625.83 L430.20,624.59 L430.45,623.36 L430.74,622.12 L431.08,620.88 L431.46,619.65 L431.89,618.41 L432.37,617.18 L432.91,615.94 L433.53,614.71 L434.23,613.47 L435.04,612.24 L435.98,611.00 L437.11,609.77 L438.55,608.53 L440.60,607.30Z" fill="#000"/>
<text transform="matrix(0.4105 0.0000 0.0000 0.4312 442.7370 644.1194)" font-family='"Liberation Serif"' font-style="italic" font-weight="normal" font-size="100" fill="#000" stroke="#000" stroke-width="0.9504">q</text>
<text transform="matrix(0.3667 0.0000 0.0000 0.2552 463.2886 652.4000)" font-family='"Liberation Serif"' font-style="normal" font-weight="normal" font-size="100" fill="#000" stroke="#000" stroke-width="0.9647">2</text>
<text transform="matrix(0.3357 0.0000 0.0000 0.3193 479.7213 651.7894)" font-family='"Liberation Serif"' font-style="normal" font-weight="normal" font-size="100" fill="#000" stroke="#000" stroke-width="0.9160">,</text>
<text transform="matrix(0.3631 0.0000 0.0000 0.2868 488.0541 652.4000)" font-family='"Liberation Serif"' font-style="italic" font-weight="normal" font-size="100" fill="#000" stroke="#000" stroke-width="0.6155">k</text>
<path d="M511.70,607.30 L513.88,608.53 L515.44,609.77 L516.70,611.00 L517.75,612.24 L518.65,613.47 L519.43,614.71 L520.12,615.94 L520.73,617.18 L521.26,618.41 L521.73,619.65 L522.15,620.88 L522.51,622.12 L522.82,623.36 L523.09,624.59 L523.31,625.83 L523.49,627.06 L523.62,628.29 L523.72,629.53 L523.78,630.76 L523.80,632.00 L523.78,633.24 L523.72,634.47 L523.62,635.71 L523.49,636.94 L523.31,638.17 L523.09,639.41 L522.82,640.64 L522.51,641.88 L522.15,643.12 L521.73,644.35 L521.26,645.59 L520.73,646.82 L520.12,648.06 L519.43,649.29 L518.65,650.53 L517.75,651.76 L516.70,653.00 L515.44,654.23 L513.88,655.47 L511.70,656.70 L509.40,656.70 L511.39,655.47 L512.79,654.23 L513.90,653.00 L514.81,651.76 L515.60,650.53 L516.28,649.29 L516.88,648.06 L517.41,646.82 L517.88,645.59 L518.30,644.35 L518.67,643.12 L518.99,641.88 L519.28,640.64 L519.52,639.41 L519.73,638.17 L519.90,636.94 L520.03,635.71 L520.12,634.47 L520.18,633.24 L520.20,632.00 L520.18,630.76 L520.12,629.53 L520.03,628.29 L519.90,627.06 L519.73,625.83 L519.52,624.59 L519.28,623.36 L518.99,622.12 L518.67,620.88 L518.30,619.65 L517.88,618.41 L517.41,617.18 L516.88,615.94 L516.28,614.71 L515.60,613.47 L514.81,612.24 L513.90,611.00 L512.79,609.77 L511.39,608.53 L509.40,607.30Z" fill="#000"/>
<path d="M398.56,687.46C399.09,687.66 399.39,687.81 399.50,688.23C399.61,688.64 399.46,689.49 399.24,689.95C399.02,690.42 398.55,690.87 398.19,691.02C397.82,691.18 397.41,691.06 397.06,690.91C396.72,690.76 396.37,690.44 396.12,690.14C395.87,689.84 395.81,689.38 395.56,689.11C395.31,688.84 394.99,688.62 394.62,688.53C394.26,688.45 393.79,688.47 393.38,688.61C392.98,688.75 392.54,688.99 392.18,689.38C391.83,689.76 391.51,690.30 391.25,690.91C390.98,691.52 390.76,692.22 390.57,693.02C390.38,693.82 390.24,695.00 390.12,695.70C390.00,696.40 389.08,697.03 389.86,697.23C390.64,697.44 393.97,696.64 394.81,696.93C395.65,697.22 395.75,698.59 394.88,698.96C394.02,699.33 390.56,698.54 389.63,699.15C388.71,699.76 389.53,701.13 389.33,702.60C389.14,704.07 388.78,706.24 388.47,707.97C388.16,709.69 387.77,711.48 387.46,712.95C387.14,714.42 386.93,715.60 386.59,716.78C386.26,717.97 385.86,719.12 385.43,720.04C385.00,720.97 384.57,721.65 384.00,722.34C383.44,723.03 382.75,723.69 382.05,724.18C381.35,724.67 380.49,725.06 379.80,725.29C379.11,725.53 378.41,725.60 377.93,725.60C377.44,725.60 377.11,725.50 376.88,725.29C376.64,725.09 376.48,724.67 376.50,724.37C376.52,724.07 376.75,723.70 376.99,723.49C377.23,723.29 377.58,723.20 377.93,723.15C378.27,723.09 378.70,723.26 379.05,723.15C379.40,723.03 379.66,722.89 380.03,722.46C380.40,722.02 380.91,721.29 381.27,720.54C381.62,719.79 381.86,719.01 382.17,717.93C382.47,716.86 382.79,715.57 383.10,714.10C383.42,712.63 383.70,710.91 384.04,709.12C384.39,707.33 384.86,705.02 385.17,703.37C385.47,701.72 386.31,699.92 385.88,699.23C385.45,698.54 383.16,699.51 382.62,699.23C382.07,698.95 381.96,697.86 382.62,697.54C383.27,697.22 385.81,697.75 386.56,697.31C387.31,696.88 386.90,695.78 387.12,694.93C387.34,694.09 387.52,693.08 387.87,692.25C388.21,691.42 388.65,690.62 389.18,689.95C389.71,689.28 390.31,688.67 391.06,688.23C391.81,687.78 392.81,687.47 393.68,687.27C394.56,687.06 395.50,686.97 396.31,687.00C397.12,687.03 398.03,687.26 398.56,687.46Z" fill="#000"/>
<text transform="matrix(0.3467 0.0000 0.0000 0.2749 401.7762 700.1000)" font-family='"Liberation Serif"' font-style="normal" font-weight="normal" font-size="100" fill="#000" stroke="#000" stroke-width="0.9652">2</text>
<path d="M436.60,679.30 L434.60,680.53 L433.16,681.77 L432.02,683.00 L431.05,684.24 L430.23,685.47 L429.51,686.71 L428.88,687.94 L428.32,689.18 L427.83,690.41 L427.40,691.65 L427.02,692.88 L426.68,694.12 L426.40,695.36 L426.15,696.59 L425.95,697.83 L425.79,699.06 L425.66,700.29 L425.57,701.53 L425.52,702.76 L425.50,704.00 L425.52,705.24 L425.57,706.47 L425.66,707.71 L425.79,708.94 L425.95,710.17 L426.15,711.41 L426.40,712.64 L426.68,713.88 L427.02,715.12 L427.40,716.35 L427.83,717.59 L428.32,718.82 L428.88,720.06 L429.51,721.29 L430.23,722.53 L431.05,723.76 L432.02,725.00 L433.16,726.23 L434.60,727.47 L436.60,728.70 L438.90,728.70 L437.09,727.47 L435.82,726.23 L434.82,725.00 L433.99,723.76 L433.28,722.53 L432.66,721.29 L432.12,720.06 L431.64,718.82 L431.21,717.59 L430.83,716.35 L430.50,715.12 L430.20,713.88 L429.94,712.64 L429.72,711.41 L429.53,710.17 L429.38,708.94 L429.26,707.71 L429.17,706.47 L429.12,705.24 L429.10,704.00 L429.12,702.76 L429.17,701.53 L429.26,700.29 L429.38,699.06 L429.53,697.83 L429.72,696.59 L429.94,695.36 L430.20,694.12 L430.50,692.88 L430.83,691.65 L431.21,690.41 L431.64,689.18 L432.12,687.94 L432.66,686.71 L433.28,685.47 L433.99,684.24 L434.82,683.00 L435.82,681.77 L437.09,680.53 L438.90,679.30Z" fill="#000"/>
<text transform="matrix(0.3521 0.0000 0.0000 0.4093 441.6891 716.5000)" font-family='"Liberation Serif"' font-style="italic" font-weight="normal" font-size="100" fill="#000" stroke="#000" stroke-width="1.0508">P</text>
<text transform="matrix(0.3609 0.0000 0.0000 0.4210 466.3089 716.6751)" font-family='"Liberation Serif"' font-style="italic" font-weight="normal" font-size="100" fill="#000" stroke="#000" stroke-width="1.0232">Q</text>
<text transform="matrix(0.3692 0.0000 0.0000 0.2839 492.6776 724.3000)" font-family='"Liberation Serif"' font-style="normal" font-weight="normal" font-size="100" fill="#000" stroke="#000" stroke-width="0.9187">2</text>
<text transform="matrix(0.3357 0.0000 0.0000 0.3115 509.2213 723.2091)" font-family='"Liberation Serif"' font-style="normal" font-weight="normal" font-size="100" fill="#000" stroke="#000" stroke-width="0.9270">,</text>
<text transform="matrix(0.3817 0.0000 0.0000 0.2868 515.8005 724.3000)" font-family='"Liberation Serif"' font-style="italic" font-weight="normal" font-size="100" fill="#000" stroke="#000" stroke-width="0.5984">k</text>
<path d="M540.80,679.30 L542.89,680.53 L544.39,681.77 L545.59,683.00 L546.60,684.24 L547.46,685.47 L548.21,686.71 L548.87,687.94 L549.45,689.18 L549.97,690.41 L550.42,691.65 L550.82,692.88 L551.16,694.12 L551.46,695.36 L551.72,696.59 L551.93,697.83 L552.10,699.06 L552.23,700.29 L552.33,701.53 L552.38,702.76 L552.40,704.00 L552.38,705.24 L552.33,706.47 L552.23,707.71 L552.10,708.94 L551.93,710.17 L551.72,711.41 L551.46,712.64 L551.16,713.88 L550.82,715.12 L550.42,716.35 L549.97,717.59 L549.45,718.82 L548.87,720.06 L548.21,721.29 L547.46,722.53 L546.60,723.76 L545.59,725.00 L544.39,726.23 L542.89,727.47 L540.80,728.70 L538.50,728.70 L540.40,727.47 L541.74,726.23 L542.79,725.00 L543.66,723.76 L544.41,722.53 L545.06,721.29 L545.63,720.06 L546.13,718.82 L546.58,717.59 L546.98,716.35 L547.33,715.12 L547.65,713.88 L547.92,712.64 L548.15,711.41 L548.35,710.17 L548.51,708.94 L548.64,707.71 L548.73,706.47 L548.78,705.24 L548.80,704.00 L548.78,702.76 L548.73,701.53 L548.64,700.29 L548.51,699.06 L548.35,697.83 L548.15,696.59 L547.92,695.36 L547.65,694.12 L547.33,692.88 L546.98,691.65 L546.58,690.41 L546.13,689.18 L545.63,687.94 L545.06,686.71 L544.41,685.47 L543.66,684.24 L542.79,683.00 L541.74,681.77 L540.40,680.53 L538.50,679.30Z" fill="#000"/>
<path d="M404.16,881.46C404.69,881.66 404.99,881.81 405.10,882.23C405.21,882.64 405.06,883.49 404.84,883.95C404.62,884.42 404.15,884.87 403.79,885.02C403.42,885.18 403.01,885.06 402.66,884.91C402.32,884.76 401.97,884.44 401.72,884.14C401.47,883.84 401.41,883.38 401.16,883.11C400.91,882.84 400.59,882.62 400.22,882.53C399.86,882.45 399.39,882.47 398.98,882.61C398.58,882.75 398.14,882.99 397.78,883.38C397.43,883.76 397.11,884.30 396.85,884.91C396.58,885.52 396.36,886.22 396.17,887.02C395.98,887.82 395.84,889.00 395.72,889.70C395.60,890.40 394.68,891.03 395.46,891.23C396.24,891.44 399.57,890.64 400.41,890.93C401.25,891.22 401.35,892.59 400.48,892.96C399.62,893.33 396.16,892.54 395.23,893.15C394.31,893.76 395.13,895.13 394.93,896.60C394.74,898.07 394.38,900.24 394.07,901.97C393.76,903.69 393.37,905.48 393.06,906.95C392.74,908.42 392.53,909.60 392.19,910.78C391.86,911.97 391.46,913.12 391.03,914.04C390.60,914.97 390.17,915.65 389.60,916.34C389.04,917.03 388.35,917.69 387.65,918.18C386.95,918.67 386.09,919.06 385.40,919.29C384.71,919.53 384.01,919.60 383.53,919.60C383.04,919.60 382.71,919.50 382.48,919.29C382.24,919.09 382.08,918.67 382.10,918.37C382.12,918.07 382.35,917.70 382.59,917.49C382.83,917.29 383.18,917.20 383.53,917.15C383.87,917.09 384.30,917.26 384.65,917.15C385.00,917.03 385.26,916.89 385.63,916.46C386.00,916.02 386.51,915.29 386.87,914.54C387.22,913.79 387.46,913.01 387.77,911.93C388.07,910.86 388.39,909.57 388.70,908.10C389.02,906.63 389.30,904.91 389.64,903.12C389.99,901.33 390.46,899.02 390.77,897.37C391.07,895.72 391.91,893.92 391.48,893.23C391.05,892.54 388.76,893.51 388.22,893.23C387.67,892.95 387.56,891.86 388.22,891.54C388.87,891.22 391.41,891.75 392.16,891.31C392.91,890.88 392.50,889.78 392.72,888.93C392.94,888.09 393.12,887.08 393.47,886.25C393.81,885.42 394.25,884.62 394.78,883.95C395.31,883.28 395.91,882.67 396.66,882.23C397.41,881.78 398.41,881.47 399.28,881.27C400.16,881.06 401.10,880.97 401.91,881.00C402.72,881.03 403.63,881.26 404.16,881.46Z" fill="#000"/>
<text transform="matrix(0.3147 0.0000 0.0000 0.2902 408.7941 895.2166)" font-family='"Liberation Serif"' font-style="normal" font-weight="normal" font-size="100" fill="#000" stroke="#000" stroke-width="0.9918">3</text>
<path d="M442.40,874.00 L440.29,875.23 L438.78,876.47 L437.57,877.70 L436.55,878.93 L435.68,880.16 L434.92,881.39 L434.26,882.63 L433.67,883.86 L433.15,885.09 L432.70,886.33 L432.30,887.56 L431.95,888.79 L431.65,890.02 L431.39,891.25 L431.18,892.49 L431.00,893.72 L430.87,894.95 L430.78,896.18 L430.72,897.42 L430.70,898.65 L430.72,899.88 L430.78,901.12 L430.87,902.35 L431.00,903.58 L431.18,904.81 L431.39,906.04 L431.65,907.28 L431.95,908.51 L432.30,909.74 L432.70,910.97 L433.15,912.21 L433.67,913.44 L434.26,914.67 L434.92,915.90 L435.68,917.14 L436.55,918.37 L437.57,919.60 L438.78,920.83 L440.29,922.07 L442.40,923.30 L444.70,923.30 L442.78,922.07 L441.43,920.83 L440.37,919.60 L439.49,918.37 L438.73,917.14 L438.08,915.90 L437.50,914.67 L436.99,913.44 L436.54,912.21 L436.14,910.97 L435.78,909.74 L435.47,908.51 L435.19,907.28 L434.95,906.04 L434.76,904.81 L434.59,903.58 L434.47,902.35 L434.37,901.12 L434.32,899.88 L434.30,898.65 L434.32,897.42 L434.37,896.18 L434.47,894.95 L434.59,893.72 L434.76,892.49 L434.95,891.25 L435.19,890.02 L435.47,888.79 L435.78,887.56 L436.14,886.33 L436.54,885.09 L436.99,883.86 L437.50,882.63 L438.08,881.39 L438.73,880.16 L439.49,878.93 L440.37,877.70 L441.43,876.47 L442.78,875.23 L444.70,874.00Z" fill="#000"/>
<text transform="matrix(0.4218 0.0000 0.0000 0.4181 445.8996 910.3995)" font-family='"Liberation Serif"' font-style="italic" font-weight="normal" font-size="100" fill="#000" stroke="#000" stroke-width="0.9525">q</text>
<text transform="matrix(0.3050 0.0000 0.0000 0.2679 467.2404 919.0384)" font-family='"Liberation Serif"' font-style="normal" font-weight="normal" font-size="100" fill="#000" stroke="#000" stroke-width="1.0473">3</text>
<text transform="matrix(0.3357 0.0000 0.0000 0.3115 483.7213 918.2091)" font-family='"Liberation Serif"' font-style="normal" font-weight="normal" font-size="100" fill="#000" stroke="#000" stroke-width="0.9270">,</text>
<text transform="matrix(0.3724 0.0000 0.0000 0.2969 491.6273 919.3000)" font-family='"Liberation Serif"' font-style="italic" font-weight="normal" font-size="100" fill="#000" stroke="#000" stroke-width="0.5977">k</text>
<path d="M515.60,874.00 L517.71,875.23 L519.22,876.47 L520.43,877.70 L521.45,878.93 L522.32,880.16 L523.08,881.39 L523.74,882.63 L524.33,883.86 L524.85,885.09 L525.30,886.33 L525.70,887.56 L526.05,888.79 L526.35,890.02 L526.61,891.25 L526.82,892.49 L527.00,893.72 L527.13,894.95 L527.22,896.18 L527.28,897.42 L527.30,898.65 L527.28,899.88 L527.22,901.12 L527.13,902.35 L527.00,903.58 L526.82,904.81 L526.61,906.04 L526.35,907.28 L526.05,908.51 L525.70,909.74 L525.30,910.97 L524.85,912.21 L524.33,913.44 L523.74,914.67 L523.08,915.90 L522.32,917.14 L521.45,918.37 L520.43,919.60 L519.22,920.83 L517.71,922.07 L515.60,923.30 L513.30,923.30 L515.22,922.07 L516.57,920.83 L517.63,919.60 L518.51,918.37 L519.27,917.14 L519.92,915.90 L520.50,914.67 L521.01,913.44 L521.46,912.21 L521.86,910.97 L522.22,909.74 L522.53,908.51 L522.81,907.28 L523.05,906.04 L523.24,904.81 L523.41,903.58 L523.53,902.35 L523.63,901.12 L523.68,899.88 L523.70,898.65 L523.68,897.42 L523.63,896.18 L523.53,894.95 L523.41,893.72 L523.24,892.49 L523.05,891.25 L522.81,890.02 L522.53,888.79 L522.22,887.56 L521.86,886.33 L521.46,885.09 L521.01,883.86 L520.50,882.63 L519.92,881.39 L519.27,880.16 L518.51,878.93 L517.63,877.70 L516.57,876.47 L515.22,875.23 L513.30,874.00Z" fill="#000"/>
<path d="M399.96,951.66C400.49,951.86 400.79,952.01 400.90,952.43C401.01,952.84 400.86,953.69 400.64,954.15C400.42,954.62 399.95,955.07 399.59,955.22C399.22,955.38 398.81,955.26 398.46,955.11C398.12,954.96 397.77,954.64 397.52,954.34C397.27,954.04 397.21,953.58 396.96,953.31C396.71,953.04 396.39,952.82 396.02,952.73C395.66,952.65 395.19,952.67 394.78,952.81C394.38,952.95 393.94,953.19 393.58,953.58C393.23,953.96 392.91,954.50 392.65,955.11C392.38,955.72 392.16,956.42 391.97,957.22C391.78,958.02 391.64,959.20 391.52,959.90C391.40,960.60 390.48,961.23 391.26,961.43C392.04,961.64 395.37,960.84 396.21,961.13C397.05,961.42 397.15,962.79 396.28,963.16C395.42,963.53 391.96,962.74 391.03,963.35C390.11,963.96 390.93,965.33 390.73,966.80C390.54,968.27 390.18,970.44 389.87,972.17C389.56,973.89 389.17,975.68 388.86,977.15C388.54,978.62 388.33,979.80 387.99,980.98C387.66,982.17 387.26,983.32 386.83,984.24C386.40,985.17 385.97,985.85 385.40,986.54C384.84,987.23 384.15,987.89 383.45,988.38C382.75,988.87 381.89,989.26 381.20,989.49C380.51,989.73 379.81,989.80 379.33,989.80C378.84,989.80 378.51,989.70 378.28,989.49C378.04,989.29 377.88,988.87 377.90,988.57C377.92,988.27 378.15,987.90 378.39,987.69C378.63,987.49 378.98,987.40 379.33,987.35C379.67,987.29 380.10,987.46 380.45,987.35C380.80,987.23 381.06,987.09 381.43,986.66C381.80,986.22 382.31,985.49 382.67,984.74C383.02,983.99 383.26,983.21 383.57,982.13C383.87,981.06 384.19,979.77 384.50,978.30C384.82,976.83 385.10,975.11 385.44,973.32C385.79,971.53 386.26,969.22 386.57,967.57C386.87,965.92 387.71,964.12 387.28,963.43C386.85,962.74 384.56,963.71 384.02,963.43C383.47,963.15 383.36,962.06 384.02,961.74C384.67,961.42 387.21,961.95 387.96,961.51C388.71,961.08 388.30,959.98 388.52,959.13C388.74,958.29 388.92,957.28 389.27,956.45C389.61,955.62 390.05,954.82 390.58,954.15C391.11,953.48 391.71,952.87 392.46,952.43C393.21,951.98 394.21,951.67 395.08,951.47C395.96,951.26 396.90,951.17 397.71,951.20C398.52,951.23 399.43,951.46 399.96,951.66Z" fill="#000"/>
<text transform="matrix(0.3244 0.0000 0.0000 0.2768 403.7478 965.0297)" font-family='"Liberation Serif"' font-style="normal" font-weight="normal" font-size="100" fill="#000" stroke="#000" stroke-width="0.9980">3</text>
<path d="M437.70,944.70 L435.72,945.93 L434.30,947.17 L433.16,948.40 L432.20,949.63 L431.38,950.86 L430.67,952.10 L430.05,953.33 L429.49,954.56 L429.01,955.79 L428.58,957.03 L428.20,958.26 L427.87,959.49 L427.59,960.72 L427.35,961.96 L427.15,963.19 L426.98,964.42 L426.86,965.65 L426.77,966.88 L426.72,968.12 L426.70,969.35 L426.72,970.58 L426.77,971.82 L426.86,973.05 L426.98,974.28 L427.15,975.51 L427.35,976.75 L427.59,977.98 L427.87,979.21 L428.20,980.44 L428.58,981.67 L429.01,982.91 L429.49,984.14 L430.05,985.37 L430.67,986.61 L431.38,987.84 L432.20,989.07 L433.16,990.30 L434.30,991.53 L435.72,992.77 L437.70,994.00 L440.00,994.00 L438.21,992.77 L436.95,991.53 L435.96,990.30 L435.14,989.07 L434.44,987.84 L433.83,986.61 L433.29,985.37 L432.81,984.14 L432.39,982.91 L432.02,981.67 L431.68,980.44 L431.39,979.21 L431.13,977.98 L430.91,976.75 L430.73,975.51 L430.57,974.28 L430.46,973.05 L430.37,971.82 L430.32,970.58 L430.30,969.35 L430.32,968.12 L430.37,966.88 L430.46,965.65 L430.57,964.42 L430.73,963.19 L430.91,961.96 L431.13,960.72 L431.39,959.49 L431.68,958.26 L432.02,957.03 L432.39,955.79 L432.81,954.56 L433.29,953.33 L433.83,952.10 L434.44,950.86 L435.14,949.63 L435.96,948.40 L436.95,947.17 L438.21,945.93 L440.00,944.70Z" fill="#000"/>
<text transform="matrix(0.3690 0.0000 0.0000 0.4261 442.8982 980.7000)" font-family='"Liberation Serif"' font-style="italic" font-weight="normal" font-size="100" fill="#000" stroke="#000" stroke-width="1.0062">P</text>
<text transform="matrix(0.3593 0.0000 0.0000 0.4380 468.0174 981.5998)" font-family='"Liberation Serif"' font-style="italic" font-weight="normal" font-size="100" fill="#000" stroke="#000" stroke-width="1.0034">Q</text>
<text transform="matrix(0.3244 0.0000 0.0000 0.2679 493.7478 989.0384)" font-family='"Liberation Serif"' font-style="normal" font-weight="normal" font-size="100" fill="#000" stroke="#000" stroke-width="1.0130">3</text>
<text transform="matrix(0.3357 0.0000 0.0000 0.3115 510.2213 988.2091)" font-family='"Liberation Serif"' font-style="normal" font-weight="normal" font-size="100" fill="#000" stroke="#000" stroke-width="0.9270">,</text>
<text transform="matrix(0.3584 0.0000 0.0000 0.2796 518.2675 988.7000)" font-family='"Liberation Serif"' font-style="italic" font-weight="normal" font-size="100" fill="#000" stroke="#000" stroke-width="0.6270">k</text>
<path d="M542.30,944.70 L544.41,945.93 L545.92,947.17 L547.13,948.40 L548.15,949.63 L549.02,950.86 L549.78,952.10 L550.44,953.33 L551.03,954.56 L551.55,955.79 L552.00,957.03 L552.40,958.26 L552.75,959.49 L553.05,960.72 L553.31,961.96 L553.52,963.19 L553.70,964.42 L553.83,965.65 L553.92,966.88 L553.98,968.12 L554.00,969.35 L553.98,970.58 L553.92,971.82 L553.83,973.05 L553.70,974.28 L553.52,975.51 L553.31,976.75 L553.05,977.98 L552.75,979.21 L552.40,980.44 L552.00,981.67 L551.55,982.91 L551.03,984.14 L550.44,985.37 L549.78,986.61 L549.02,987.84 L548.15,989.07 L547.13,990.30 L545.92,991.53 L544.41,992.77 L542.30,994.00 L540.00,994.00 L541.92,992.77 L543.27,991.53 L544.33,990.30 L545.21,989.07 L545.97,987.84 L546.62,986.61 L547.20,985.37 L547.71,984.14 L548.16,982.91 L548.56,981.67 L548.92,980.44 L549.23,979.21 L549.51,977.98 L549.75,976.75 L549.94,975.51 L550.11,974.28 L550.23,973.05 L550.33,971.82 L550.38,970.58 L550.40,969.35 L550.38,968.12 L550.33,966.88 L550.23,965.65 L550.11,964.42 L549.94,963.19 L549.75,961.96 L549.51,960.72 L549.23,959.49 L548.92,958.26 L548.56,957.03 L548.16,955.79 L547.71,954.56 L547.20,953.33 L546.62,952.10 L545.97,950.86 L545.21,949.63 L544.33,948.40 L543.27,947.17 L541.92,945.93 L540.00,944.70Z" fill="#000"/>
<path d="M415.26,1135.46C415.79,1135.66 416.09,1135.81 416.20,1136.23C416.31,1136.64 416.16,1137.49 415.94,1137.95C415.72,1138.42 415.25,1138.87 414.89,1139.02C414.52,1139.18 414.11,1139.06 413.76,1138.91C413.42,1138.76 413.07,1138.44 412.82,1138.14C412.57,1137.84 412.51,1137.38 412.26,1137.11C412.01,1136.84 411.69,1136.62 411.32,1136.53C410.96,1136.45 410.49,1136.47 410.08,1136.61C409.68,1136.75 409.24,1136.99 408.88,1137.38C408.53,1137.76 408.21,1138.30 407.95,1138.91C407.68,1139.52 407.46,1140.22 407.27,1141.02C407.08,1141.82 406.94,1143.00 406.82,1143.70C406.70,1144.40 405.78,1145.03 406.56,1145.23C407.34,1145.44 410.67,1144.64 411.51,1144.93C412.35,1145.22 412.45,1146.59 411.58,1146.96C410.72,1147.33 407.26,1146.54 406.33,1147.15C405.41,1147.76 406.23,1149.13 406.03,1150.60C405.84,1152.07 405.48,1154.24 405.17,1155.97C404.86,1157.69 404.47,1159.48 404.16,1160.95C403.84,1162.42 403.63,1163.60 403.29,1164.78C402.96,1165.97 402.56,1167.12 402.13,1168.04C401.70,1168.97 401.27,1169.65 400.70,1170.34C400.14,1171.03 399.45,1171.69 398.75,1172.18C398.05,1172.67 397.19,1173.06 396.50,1173.29C395.81,1173.53 395.11,1173.60 394.63,1173.60C394.14,1173.60 393.81,1173.50 393.58,1173.29C393.34,1173.09 393.18,1172.67 393.20,1172.37C393.22,1172.07 393.45,1171.70 393.69,1171.49C393.93,1171.29 394.28,1171.20 394.63,1171.15C394.97,1171.09 395.40,1171.26 395.75,1171.15C396.10,1171.03 396.36,1170.89 396.73,1170.46C397.10,1170.02 397.61,1169.29 397.97,1168.54C398.32,1167.79 398.56,1167.01 398.87,1165.93C399.17,1164.86 399.49,1163.57 399.80,1162.10C400.12,1160.63 400.40,1158.91 400.74,1157.12C401.09,1155.33 401.56,1153.02 401.87,1151.37C402.17,1149.72 403.01,1147.92 402.58,1147.23C402.15,1146.54 399.86,1147.51 399.32,1147.23C398.77,1146.95 398.66,1145.86 399.32,1145.54C399.97,1145.22 402.51,1145.75 403.26,1145.31C404.01,1144.88 403.60,1143.78 403.82,1142.93C404.04,1142.09 404.22,1141.08 404.57,1140.25C404.91,1139.42 405.35,1138.62 405.88,1137.95C406.41,1137.28 407.01,1136.67 407.76,1136.23C408.51,1135.78 409.51,1135.47 410.38,1135.27C411.26,1135.06 412.20,1134.97 413.01,1135.00C413.82,1135.03 414.73,1135.26 415.26,1135.46Z" fill="#000"/>
<text transform="matrix(0.3195 0.0000 0.0000 0.2947 419.2709 1149.1122)" font-family='"Liberation Serif"' font-style="normal" font-weight="normal" font-size="100" fill="#000" stroke="#000" stroke-width="0.9768">3</text>
<path d="M452.70,1134.40 L450.74,1135.36 L449.33,1136.32 L448.20,1137.28 L447.25,1138.24 L446.44,1139.20 L445.74,1140.16 L445.12,1141.12 L444.57,1142.08 L444.09,1143.04 L443.66,1144.00 L443.29,1144.96 L442.96,1145.92 L442.68,1146.88 L442.44,1147.84 L442.24,1148.80 L442.08,1149.76 L441.96,1150.72 L441.87,1151.68 L441.82,1152.64 L441.80,1153.60 L441.82,1154.56 L441.87,1155.52 L441.96,1156.48 L442.08,1157.44 L442.24,1158.40 L442.44,1159.36 L442.68,1160.32 L442.96,1161.28 L443.29,1162.24 L443.66,1163.20 L444.09,1164.16 L444.57,1165.12 L445.12,1166.08 L445.74,1167.04 L446.44,1168.00 L447.25,1168.96 L448.20,1169.92 L449.33,1170.88 L450.74,1171.84 L452.70,1172.80 L455.00,1172.80 L453.18,1171.84 L451.90,1170.88 L450.88,1169.92 L450.04,1168.96 L449.32,1168.00 L448.69,1167.04 L448.14,1166.08 L447.65,1165.12 L447.22,1164.16 L446.84,1163.20 L446.50,1162.24 L446.20,1161.28 L445.94,1160.32 L445.72,1159.36 L445.53,1158.40 L445.37,1157.44 L445.25,1156.48 L445.17,1155.52 L445.12,1154.56 L445.10,1153.60 L445.12,1152.64 L445.17,1151.68 L445.25,1150.72 L445.37,1149.76 L445.53,1148.80 L445.72,1147.84 L445.94,1146.88 L446.20,1145.92 L446.50,1144.96 L446.84,1144.00 L447.22,1143.04 L447.65,1142.08 L448.14,1141.12 L448.69,1140.16 L449.32,1139.20 L450.04,1138.24 L450.88,1137.28 L451.90,1136.32 L453.18,1135.36 L455.00,1134.40Z" fill="#000"/>
<text transform="matrix(0.5291 0.0000 0.0000 0.4457 454.0558 1164.4000)" font-family='"Liberation Serif"' font-style="italic" font-weight="normal" font-size="100" fill="#000" stroke="#fff" stroke-width="1.0259">r</text>
<text transform="matrix(0.3341 0.0000 0.0000 0.3036 470.8014 1172.5035)" font-family='"Liberation Serif"' font-style="normal" font-weight="normal" font-size="100" fill="#000" stroke="#000" stroke-width="0.9409">3</text>
<text transform="matrix(0.3357 0.0000 0.0000 0.3115 487.2213 1171.2091)" font-family='"Liberation Serif"' font-style="normal" font-weight="normal" font-size="100" fill="#000" stroke="#000" stroke-width="0.9270">,</text>
<text transform="matrix(0.3770 0.0000 0.0000 0.2940 494.1139 1172.8000)" font-family='"Liberation Serif"' font-style="italic" font-weight="normal" font-size="100" fill="#000" stroke="#000" stroke-width="0.5961">k</text>
<path d="M517.90,1134.40 L519.97,1135.36 L521.46,1136.32 L522.65,1137.28 L523.65,1138.24 L524.50,1139.20 L525.25,1140.16 L525.90,1141.12 L526.48,1142.08 L526.99,1143.04 L527.44,1144.00 L527.83,1144.96 L528.17,1145.92 L528.47,1146.88 L528.72,1147.84 L528.93,1148.80 L529.10,1149.76 L529.23,1150.72 L529.33,1151.68 L529.38,1152.64 L529.40,1153.60 L529.38,1154.56 L529.33,1155.52 L529.23,1156.48 L529.10,1157.44 L528.93,1158.40 L528.72,1159.36 L528.47,1160.32 L528.17,1161.28 L527.83,1162.24 L527.44,1163.20 L526.99,1164.16 L526.48,1165.12 L525.90,1166.08 L525.25,1167.04 L524.50,1168.00 L523.65,1168.96 L522.65,1169.92 L521.46,1170.88 L519.97,1171.84 L517.90,1172.80 L515.60,1172.80 L517.53,1171.84 L518.89,1170.88 L519.96,1169.92 L520.86,1168.96 L521.62,1168.00 L522.29,1167.04 L522.88,1166.08 L523.39,1165.12 L523.85,1164.16 L524.26,1163.20 L524.62,1162.24 L524.94,1161.28 L525.21,1160.32 L525.45,1159.36 L525.65,1158.40 L525.81,1157.44 L525.94,1156.48 L526.03,1155.52 L526.08,1154.56 L526.10,1153.60 L526.08,1152.64 L526.03,1151.68 L525.94,1150.72 L525.81,1149.76 L525.65,1148.80 L525.45,1147.84 L525.21,1146.88 L524.94,1145.92 L524.62,1144.96 L524.26,1144.00 L523.85,1143.04 L523.39,1142.08 L522.88,1141.12 L522.29,1140.16 L521.62,1139.20 L520.86,1138.24 L519.96,1137.28 L518.89,1136.32 L517.53,1135.36 L515.60,1134.40Z" fill="#000"/>
<path d="M946.26,886.96C946.79,887.16 947.09,887.31 947.20,887.73C947.31,888.14 947.16,888.99 946.94,889.45C946.72,889.92 946.25,890.37 945.89,890.52C945.52,890.68 945.11,890.56 944.76,890.41C944.42,890.26 944.07,889.94 943.82,889.64C943.57,889.34 943.51,888.88 943.26,888.61C943.01,888.34 942.69,888.12 942.32,888.03C941.96,887.95 941.49,887.97 941.08,888.11C940.68,888.25 940.24,888.49 939.88,888.88C939.53,889.26 939.21,889.80 938.95,890.41C938.68,891.02 938.46,891.72 938.27,892.52C938.08,893.32 937.94,894.50 937.82,895.20C937.70,895.90 936.78,896.53 937.56,896.73C938.34,896.94 941.67,896.14 942.51,896.43C943.35,896.72 943.45,898.09 942.58,898.46C941.72,898.83 938.26,898.04 937.33,898.65C936.41,899.26 937.23,900.63 937.03,902.10C936.84,903.57 936.48,905.74 936.17,907.47C935.86,909.19 935.47,910.98 935.16,912.45C934.84,913.92 934.63,915.10 934.29,916.28C933.96,917.47 933.56,918.62 933.13,919.54C932.70,920.47 932.27,921.15 931.70,921.84C931.14,922.53 930.45,923.19 929.75,923.68C929.05,924.17 928.19,924.56 927.50,924.79C926.81,925.03 926.11,925.10 925.63,925.10C925.14,925.10 924.81,925.00 924.58,924.79C924.34,924.59 924.18,924.17 924.20,923.87C924.22,923.57 924.45,923.20 924.69,922.99C924.93,922.79 925.28,922.70 925.63,922.65C925.97,922.59 926.40,922.76 926.75,922.65C927.10,922.53 927.36,922.39 927.73,921.96C928.10,921.52 928.61,920.79 928.97,920.04C929.32,919.29 929.56,918.51 929.87,917.43C930.17,916.36 930.49,915.07 930.80,913.60C931.12,912.13 931.40,910.41 931.74,908.62C932.09,906.83 932.56,904.52 932.87,902.87C933.17,901.22 934.01,899.42 933.58,898.73C933.15,898.04 930.86,899.01 930.32,898.73C929.77,898.45 929.66,897.36 930.32,897.04C930.97,896.72 933.51,897.25 934.26,896.81C935.01,896.38 934.60,895.28 934.82,894.43C935.04,893.59 935.22,892.58 935.57,891.75C935.91,890.92 936.35,890.12 936.88,889.45C937.41,888.78 938.01,888.17 938.76,887.73C939.51,887.28 940.51,886.97 941.38,886.77C942.26,886.56 943.20,886.47 944.01,886.50C944.82,886.53 945.73,886.76 946.26,886.96Z" fill="#000"/>
<text transform="matrix(0.3220 0.0000 0.0000 0.2739 949.8593 900.1326)" font-family='"Liberation Serif"' font-style="normal" font-weight="normal" font-size="100" fill="#000" stroke="#000" stroke-width="1.0070">3</text>
<path d="M984.00,878.20 L981.89,879.45 L980.38,880.71 L979.17,881.96 L978.15,883.21 L977.28,884.46 L976.52,885.72 L975.86,886.97 L975.27,888.22 L974.75,889.47 L974.30,890.73 L973.90,891.98 L973.55,893.23 L973.25,894.48 L972.99,895.74 L972.78,896.99 L972.60,898.24 L972.47,899.49 L972.38,900.75 L972.32,902.00 L972.30,903.25 L972.32,904.50 L972.38,905.75 L972.47,907.01 L972.60,908.26 L972.78,909.51 L972.99,910.76 L973.25,912.02 L973.55,913.27 L973.90,914.52 L974.30,915.77 L974.75,917.03 L975.27,918.28 L975.86,919.53 L976.52,920.78 L977.28,922.04 L978.15,923.29 L979.17,924.54 L980.38,925.79 L981.89,927.05 L984.00,928.30 L986.30,928.30 L984.38,927.05 L983.03,925.79 L981.97,924.54 L981.09,923.29 L980.33,922.04 L979.68,920.78 L979.10,919.53 L978.59,918.28 L978.14,917.03 L977.74,915.77 L977.38,914.52 L977.07,913.27 L976.79,912.02 L976.55,910.76 L976.36,909.51 L976.19,908.26 L976.07,907.01 L975.97,905.75 L975.92,904.50 L975.90,903.25 L975.92,902.00 L975.97,900.75 L976.07,899.49 L976.19,898.24 L976.36,896.99 L976.55,895.74 L976.79,894.48 L977.07,893.23 L977.38,891.98 L977.74,890.73 L978.14,889.47 L978.59,888.22 L979.10,886.97 L979.68,885.72 L980.33,884.46 L981.09,883.21 L981.97,881.96 L983.03,880.71 L984.38,879.45 L986.30,878.20Z" fill="#000"/>
<text transform="matrix(0.4558 0.0000 0.0000 0.4096 988.2437 914.6000)" font-family='"Liberation Serif"' font-style="italic" font-weight="normal" font-size="100" fill="#000" stroke="#000" stroke-width="0.2773">s</text>
<text transform="matrix(0.3220 0.0000 0.0000 0.2739 1005.6593 924.2326)" font-family='"Liberation Serif"' font-style="normal" font-weight="normal" font-size="100" fill="#000" stroke="#000" stroke-width="1.0070">3</text>
<text transform="matrix(0.3357 0.0000 0.0000 0.3115 1021.7213 923.2091)" font-family='"Liberation Serif"' font-style="normal" font-weight="normal" font-size="100" fill="#000" stroke="#000" stroke-width="0.9270">,</text>
<text transform="matrix(0.3677 0.0000 0.0000 0.3012 1029.5407 924.5000)" font-family='"Liberation Serif"' font-style="italic" font-weight="normal" font-size="100" fill="#000" stroke="#000" stroke-width="0.5980">k</text>
<path d="M1053.80,878.20 L1055.89,879.45 L1057.39,880.71 L1058.59,881.96 L1059.60,883.21 L1060.46,884.46 L1061.21,885.72 L1061.87,886.97 L1062.45,888.22 L1062.97,889.47 L1063.42,890.73 L1063.82,891.98 L1064.16,893.23 L1064.46,894.48 L1064.72,895.74 L1064.93,896.99 L1065.10,898.24 L1065.23,899.49 L1065.33,900.75 L1065.38,902.00 L1065.40,903.25 L1065.38,904.50 L1065.33,905.75 L1065.23,907.01 L1065.10,908.26 L1064.93,909.51 L1064.72,910.76 L1064.46,912.02 L1064.16,913.27 L1063.82,914.52 L1063.42,915.77 L1062.97,917.03 L1062.45,918.28 L1061.87,919.53 L1061.21,920.78 L1060.46,922.04 L1059.60,923.29 L1058.59,924.54 L1057.39,925.79 L1055.89,927.05 L1053.80,928.30 L1051.50,928.30 L1053.40,927.05 L1054.74,925.79 L1055.79,924.54 L1056.66,923.29 L1057.41,922.04 L1058.06,920.78 L1058.63,919.53 L1059.13,918.28 L1059.58,917.03 L1059.98,915.77 L1060.33,914.52 L1060.65,913.27 L1060.92,912.02 L1061.15,910.76 L1061.35,909.51 L1061.51,908.26 L1061.64,907.01 L1061.73,905.75 L1061.78,904.50 L1061.80,903.25 L1061.78,902.00 L1061.73,900.75 L1061.64,899.49 L1061.51,898.24 L1061.35,896.99 L1061.15,895.74 L1060.92,894.48 L1060.65,893.23 L1060.33,891.98 L1059.98,890.73 L1059.58,889.47 L1059.13,888.22 L1058.63,886.97 L1058.06,885.72 L1057.41,884.46 L1056.66,883.21 L1055.79,881.96 L1054.74,880.71 L1053.40,879.45 L1051.50,878.20Z" fill="#000"/>
<text transform="matrix(0.3511 0.0000 0.0000 0.4261 925.6371 1008.7000)" font-family='"Liberation Serif"' font-style="italic" font-weight="normal" font-size="100" fill="#000" stroke="#000" stroke-width="1.0294">I</text>
<text transform="matrix(0.4977 0.0000 0.0000 0.4153 939.4168 1008.2945)" font-family='"Liberation Serif"' font-style="italic" font-weight="normal" font-size="100" fill="#000" stroke="#000" stroke-width="0.2629">S</text>
<text transform="matrix(0.3424 0.0000 0.0000 0.4153 962.9782 1008.2945)" font-family='"Liberation Serif"' font-style="italic" font-weight="normal" font-size="100" fill="#000" stroke="#000" stroke-width="1.0559">O</text>
<text transform="matrix(0.2929 0.0000 0.0000 0.3021 987.9983 1017.3049)" font-family='"Liberation Serif"' font-style="normal" font-weight="normal" font-size="100" fill="#000" stroke="#000" stroke-width="1.0083">3</text>
<text transform="matrix(0.3357 0.0000 0.0000 0.3115 1003.2213 1016.2091)" font-family='"Liberation Serif"' font-style="normal" font-weight="normal" font-size="100" fill="#000" stroke="#000" stroke-width="0.9270">,</text>
<text transform="matrix(0.3840 0.0000 0.0000 0.2926 1010.4937 1017.6000)" font-family='"Liberation Serif"' font-style="italic" font-weight="normal" font-size="100" fill="#000" stroke="#000" stroke-width="0.5912">k</text>
<text transform="matrix(0.3697 0.0000 0.0000 0.3717 803.6765 1290.5370)" font-family='"Liberation Sans"' font-style="italic" font-weight="normal" font-size="100" fill="#000" stroke="#000" stroke-width="0.9441">b</text>
<text transform="matrix(0.0000 -0.4023 0.3740 0.0000 39.2000 322.5555)" font-family='"Liberation Sans"' font-style="italic" font-weight="normal" font-size="100" fill="#000" stroke="#000" stroke-width="0.9017">f</text>
<text transform="matrix(0.0000 -0.2644 0.3714 0.0000 39.0111 273.9395)" font-family='"Liberation Sans"' font-style="italic" font-weight="normal" font-size="100" fill="#000" stroke="#000" stroke-width="1.1009">(</text>
<text transform="matrix(0.0000 -0.3501 0.3690 0.0000 39.4396 262.7958)" font-family='"Liberation Sans"' font-style="italic" font-weight="normal" font-size="100" fill="#000" stroke="#000" stroke-width="0.9734">b</text>
<text transform="matrix(0.0000 -0.2482 0.3714 0.0000 39.0111 236.7879)" font-family='"Liberation Sans"' font-style="italic" font-weight="normal" font-size="100" fill="#000" stroke="#000" stroke-width="1.1297">)</text>
<text transform="matrix(0.0000 -0.4205 0.3726 0.0000 39.0000 704.9167)" font-family='"Liberation Sans"' font-style="italic" font-weight="normal" font-size="100" fill="#000" stroke="#000" stroke-width="0.8826">f</text>
<text transform="matrix(0.0000 -0.2850 0.3151 0.0000 22.5000 683.1330)" font-family='"Liberation Sans"' font-style="italic" font-weight="normal" font-size="100" fill="#000" stroke="#000" stroke-width="1.1665">2</text>
<text transform="matrix(0.0000 -0.2321 0.3714 0.0000 39.0111 655.4877)" font-family='"Liberation Sans"' font-style="italic" font-weight="normal" font-size="100" fill="#000" stroke="#000" stroke-width="1.1600">(</text>
<text transform="matrix(0.0000 -0.3599 0.3690 0.0000 39.4396 644.5096)" font-family='"Liberation Sans"' font-style="italic" font-weight="normal" font-size="100" fill="#000" stroke="#000" stroke-width="0.9603">b</text>
<text transform="matrix(0.0000 -0.2186 0.3714 0.0000 39.0111 618.2763)" font-family='"Liberation Sans"' font-style="italic" font-weight="normal" font-size="100" fill="#000" stroke="#000" stroke-width="1.1865">)</text>
<text transform="matrix(0.0000 -0.4175 0.3740 0.0000 47.9000 1083.7065)" font-family='"Liberation Sans"' font-style="italic" font-weight="normal" font-size="100" fill="#000" stroke="#000" stroke-width="0.8844">f</text>
<text transform="matrix(0.0000 -0.3187 0.3249 0.0000 31.3828 1063.4471)" font-family='"Liberation Sans"' font-style="italic" font-weight="normal" font-size="100" fill="#000" stroke="#000" stroke-width="1.0876">3</text>
<text transform="matrix(0.0000 -0.2482 0.3778 0.0000 48.1778 1034.9636)" font-family='"Liberation Sans"' font-style="italic" font-weight="normal" font-size="100" fill="#000" stroke="#000" stroke-width="1.1181">(</text>
<text transform="matrix(0.0000 -0.3619 0.3704 0.0000 47.6383 1023.4124)" font-family='"Liberation Sans"' font-style="italic" font-weight="normal" font-size="100" fill="#000" stroke="#000" stroke-width="0.9560">b</text>
<text transform="matrix(0.0000 -0.2482 0.3778 0.0000 48.1778 997.3879)" font-family='"Liberation Sans"' font-style="italic" font-weight="normal" font-size="100" fill="#000" stroke="#000" stroke-width="1.1181">)</text>
<path transform="matrix(0.0000 -32.5699 32.1310 0.0000 22.5000 305.3908)" d="M0.37256,-0.00000L0.28467,-0.00000L0.40374,-0.56006Q0.36556,-0.52979 0.30761,-0.49951Q0.24966,-0.46924 0.20543,-0.45410L0.22349,-0.53906Q0.30459,-0.57373 0.36931,-0.62207Q0.43403,-0.67041 0.46810,-0.71582L0.52474,-0.71582Z" fill="#000" stroke="#000" stroke-width="0.0108"/>
</g>
</svg>
</body></html>
